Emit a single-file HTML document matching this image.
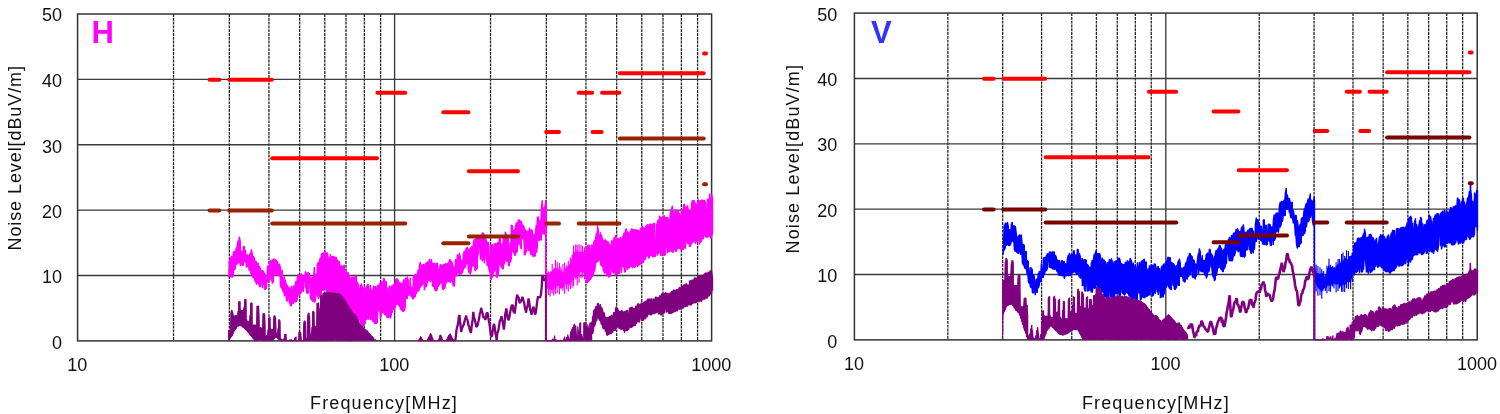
<!DOCTYPE html>
<html><head><meta charset="utf-8"><title>Noise Level</title>
<style>
html,body{margin:0;padding:0;background:#fff;}
body{width:1500px;height:414px;overflow:hidden;font-family:"Liberation Sans", sans-serif;}
svg{display:block;will-change:transform;opacity:0.999;}
.t{font-family:"Liberation Sans", sans-serif;font-size:18px;fill:#111;}
.dash{stroke:#262626;stroke-width:1.3;stroke-dasharray:2.9 0.9;}
.maj{stroke:#3a3a3a;stroke-width:1.35;}
.frame{fill:none;stroke:#333;stroke-width:1.5;}
.lim{stroke-width:4;stroke-linecap:round;}
.tr{fill:none;stroke-linejoin:bevel;}
.hv{font-family:"Liberation Sans", sans-serif;font-size:29px;font-weight:bold;}
</style></head><body>
<svg width="1500" height="414" viewBox="0 0 1500 414">
<rect width="1500" height="414" fill="#fff"/>

<g id="left">
<line x1="173.53" y1="14.00" x2="173.53" y2="340.90" class="dash"/>
<line x1="229.35" y1="14.00" x2="229.35" y2="340.90" class="dash"/>
<line x1="268.95" y1="14.00" x2="268.95" y2="340.90" class="dash"/>
<line x1="299.67" y1="14.00" x2="299.67" y2="340.90" class="dash"/>
<line x1="324.77" y1="14.00" x2="324.77" y2="340.90" class="dash"/>
<line x1="346.00" y1="14.00" x2="346.00" y2="340.90" class="dash"/>
<line x1="364.38" y1="14.00" x2="364.38" y2="340.90" class="dash"/>
<line x1="380.59" y1="14.00" x2="380.59" y2="340.90" class="dash"/>
<line x1="490.53" y1="14.00" x2="490.53" y2="340.90" class="dash"/>
<line x1="546.35" y1="14.00" x2="546.35" y2="340.90" class="dash"/>
<line x1="585.95" y1="14.00" x2="585.95" y2="340.90" class="dash"/>
<line x1="616.67" y1="14.00" x2="616.67" y2="340.90" class="dash"/>
<line x1="641.77" y1="14.00" x2="641.77" y2="340.90" class="dash"/>
<line x1="663.00" y1="14.00" x2="663.00" y2="340.90" class="dash"/>
<line x1="681.38" y1="14.00" x2="681.38" y2="340.90" class="dash"/>
<line x1="697.59" y1="14.00" x2="697.59" y2="340.90" class="dash"/>
<line x1="394.60" y1="14.00" x2="394.60" y2="340.90" class="maj"/>
<line x1="77.60" y1="275.52" x2="711.60" y2="275.52" class="maj"/>
<line x1="77.60" y1="210.14" x2="711.60" y2="210.14" class="maj"/>
<line x1="77.60" y1="144.76" x2="711.60" y2="144.76" class="maj"/>
<line x1="77.60" y1="79.38" x2="711.60" y2="79.38" class="maj"/>
<rect x="77.60" y="14.00" width="634.00" height="326.90" class="frame"/>
<polygon fill="#ff00ff" points="228.3,275.7 229.3,262.0 230.3,258.1 231.3,255.8 232.3,257.7 233.3,252.2 234.3,251.2 235.3,253.5 236.3,247.5 237.3,245.0 238.3,240.2 239.3,236.6 240.3,241.9 241.3,250.8 242.3,253.1 243.3,246.5 244.3,246.4 245.3,249.6 246.3,258.9 247.3,254.5 248.3,256.2 249.3,255.7 250.3,253.0 251.3,249.3 252.3,254.0 253.3,256.4 254.3,257.8 255.3,260.8 256.3,261.8 257.3,263.6 258.3,263.2 259.3,266.0 260.3,268.4 261.3,271.4 262.3,270.1 263.3,271.1 264.3,273.5 265.3,274.3 266.3,289.0 267.3,268.1 268.3,265.0 269.3,268.0 270.3,260.0 271.3,261.9 272.3,259.5 273.3,259.2 274.3,259.1 275.3,259.5 276.3,260.5 277.3,261.2 278.3,266.9 279.3,263.7 280.3,267.0 281.3,271.9 282.3,269.9 283.3,281.0 284.3,276.3 285.3,279.8 286.3,284.8 287.3,285.0 288.3,287.7 289.3,287.5 290.3,290.7 291.3,285.7 292.3,293.3 293.3,285.8 294.3,286.5 295.3,282.3 296.3,281.5 297.3,277.3 298.3,274.6 299.3,275.5 300.3,276.4 301.3,273.6 302.3,275.8 303.3,276.0 304.3,276.0 305.3,271.4 306.3,273.6 307.3,273.1 308.3,272.5 309.3,273.1 310.3,278.6 311.3,280.3 312.3,276.5 313.3,282.5 314.3,267.1 315.3,278.7 316.3,273.6 317.3,263.7 318.3,262.6 319.3,261.2 320.3,257.9 321.3,254.6 322.3,253.0 323.3,255.1 324.3,251.6 325.3,251.7 326.3,254.3 327.3,252.4 328.3,259.3 329.3,262.5 330.3,254.1 331.3,257.3 332.3,256.3 333.3,256.2 334.3,257.1 335.3,258.0 336.3,257.2 337.3,259.6 338.3,263.2 339.3,260.8 340.3,271.0 341.3,265.3 342.3,266.2 343.3,267.6 344.3,264.7 345.3,276.0 346.3,270.7 347.3,273.1 348.3,272.5 349.3,275.1 350.3,281.5 351.3,278.0 352.3,276.8 353.3,277.0 354.3,277.6 355.3,276.3 356.3,276.0 357.3,282.1 358.3,284.7 359.3,294.9 360.3,284.9 361.3,283.5 362.3,287.5 363.3,288.1 364.3,287.5 365.3,292.0 366.3,286.5 367.3,284.7 368.3,284.6 369.3,293.4 370.3,285.1 371.3,290.7 372.3,289.9 373.3,285.7 374.3,287.7 375.3,286.2 376.3,288.3 377.3,285.9 378.3,285.5 379.3,284.3 380.3,283.2 381.3,281.3 382.3,283.2 383.3,278.8 384.3,278.4 385.3,281.0 386.3,282.3 387.3,287.7 388.3,292.4 389.3,285.6 390.3,288.8 391.3,285.8 392.3,286.6 393.3,284.2 394.3,285.8 395.3,281.1 396.3,278.4 397.3,278.7 398.3,280.8 399.3,282.2 400.3,284.0 401.3,282.8 402.3,284.5 403.3,279.8 404.3,280.3 405.3,278.0 406.3,279.3 407.3,276.4 408.3,280.8 409.3,293.8 410.3,277.8 411.3,286.6 412.3,290.5 413.3,277.6 414.3,275.3 415.3,274.1 416.3,275.5 417.3,274.2 418.3,269.8 419.3,267.0 420.3,261.9 421.3,266.4 422.3,264.7 423.3,264.2 424.3,265.7 425.3,264.2 426.3,262.8 427.3,261.8 428.3,262.5 429.3,259.0 430.3,263.8 431.3,259.0 432.3,265.2 433.3,263.3 434.3,263.3 435.3,266.5 436.3,263.2 437.3,262.5 438.3,272.8 439.3,270.6 440.3,264.1 441.3,265.8 442.3,265.0 443.3,264.9 444.3,264.2 445.3,263.2 446.3,265.2 447.3,263.7 448.3,262.9 449.3,260.0 450.3,259.7 451.3,260.9 452.3,263.0 453.3,265.5 454.3,272.1 455.3,259.6 456.3,259.9 457.3,254.6 458.3,257.2 459.3,252.8 460.3,257.2 461.3,259.9 462.3,261.7 463.3,254.6 464.3,251.2 465.3,251.4 466.3,247.9 467.3,246.9 468.3,252.0 469.3,250.1 470.3,248.1 471.3,246.6 472.3,246.9 473.3,242.9 474.3,239.3 475.3,241.2 476.3,237.3 477.3,236.2 478.3,235.4 479.3,237.2 480.3,239.0 481.3,237.6 482.3,232.6 483.3,233.1 484.3,235.7 485.3,236.4 486.3,241.1 487.3,242.7 488.3,242.0 489.3,267.9 490.3,244.3 491.3,246.8 492.3,243.9 493.3,251.1 494.3,243.3 495.3,244.0 496.3,243.8 497.3,243.7 498.3,242.1 499.3,238.2 500.3,239.2 501.3,244.0 502.3,244.4 503.3,237.5 504.3,238.1 505.3,231.8 506.3,234.4 507.3,238.3 508.3,237.0 509.3,251.3 510.3,242.0 511.3,225.1 512.3,225.6 513.3,231.1 514.3,229.6 515.3,227.5 516.3,222.6 517.3,225.8 518.3,219.7 519.3,219.6 520.3,221.4 521.3,221.2 522.3,225.6 523.3,225.0 524.3,228.3 525.3,229.5 526.3,232.0 527.3,231.0 528.3,232.2 529.3,227.8 530.3,231.4 531.3,229.4 532.3,230.9 533.3,234.2 534.3,235.2 535.3,233.1 536.3,225.2 537.3,217.8 538.3,216.6 539.3,221.6 540.3,220.1 541.3,208.8 542.3,200.3 543.3,209.7 544.3,206.8 545.3,203.5 546.3,203.5 546.3,231.7 545.3,234.0 544.3,234.1 543.3,233.9 542.3,233.5 541.3,240.3 540.3,239.1 539.3,241.1 538.3,238.8 537.3,247.3 536.3,252.9 535.3,255.9 534.3,256.2 533.3,256.7 532.3,255.2 531.3,255.0 530.3,253.2 529.3,249.2 528.3,250.8 527.3,243.3 526.3,252.5 525.3,254.7 524.3,254.7 523.3,239.0 522.3,238.0 521.3,249.0 520.3,245.7 519.3,241.8 518.3,245.1 517.3,250.9 516.3,253.3 515.3,255.5 514.3,254.7 513.3,252.5 512.3,250.8 511.3,258.3 510.3,262.6 509.3,266.1 508.3,264.8 507.3,260.5 506.3,261.6 505.3,257.2 504.3,264.3 503.3,268.8 502.3,268.9 501.3,267.6 500.3,263.5 499.3,258.2 498.3,276.0 497.3,277.4 496.3,276.4 495.3,269.1 494.3,271.5 493.3,273.2 492.3,277.5 491.3,280.0 490.3,274.8 489.3,271.4 488.3,264.4 487.3,265.9 486.3,258.0 485.3,250.9 484.3,263.4 483.3,258.3 482.3,261.2 481.3,258.4 480.3,259.2 479.3,241.0 478.3,255.2 477.3,268.0 476.3,269.6 475.3,271.3 474.3,265.8 473.3,265.8 472.3,266.0 471.3,270.2 470.3,274.4 469.3,273.0 468.3,270.6 467.3,262.7 466.3,264.4 465.3,266.7 464.3,268.3 463.3,269.1 462.3,273.0 461.3,274.6 460.3,273.1 459.3,274.9 458.3,271.5 457.3,272.7 456.3,276.3 455.3,271.6 454.3,286.6 453.3,286.2 452.3,280.6 451.3,279.0 450.3,282.7 449.3,281.5 448.3,281.3 447.3,280.4 446.3,283.3 445.3,286.3 444.3,288.9 443.3,290.0 442.3,287.5 441.3,281.7 440.3,283.7 439.3,284.5 438.3,286.6 437.3,289.1 436.3,291.1 435.3,291.0 434.3,287.4 433.3,286.5 432.3,285.6 431.3,276.8 430.3,282.0 429.3,280.2 428.3,280.1 427.3,282.1 426.3,287.1 425.3,286.2 424.3,290.3 423.3,281.5 422.3,285.0 421.3,285.5 420.3,287.3 419.3,289.6 418.3,291.5 417.3,288.8 416.3,294.0 415.3,296.3 414.3,297.6 413.3,299.1 412.3,298.6 411.3,296.8 410.3,292.4 409.3,295.1 408.3,295.1 407.3,298.9 406.3,297.4 405.3,306.7 404.3,311.0 403.3,311.6 402.3,311.2 401.3,309.9 400.3,308.8 399.3,306.6 398.3,303.6 397.3,304.1 396.3,304.8 395.3,306.6 394.3,310.4 393.3,305.5 392.3,312.6 391.3,315.0 390.3,318.4 389.3,315.8 388.3,318.0 387.3,317.8 386.3,315.4 385.3,314.8 384.3,314.2 383.3,312.9 382.3,311.8 381.3,315.0 380.3,319.0 379.3,311.1 378.3,310.0 377.3,322.4 376.3,323.8 375.3,323.3 374.3,323.2 373.3,321.5 372.3,320.3 371.3,318.0 370.3,320.1 369.3,315.1 368.3,319.7 367.3,317.8 366.3,319.8 365.3,323.2 364.3,323.1 363.3,326.0 362.3,325.8 361.3,322.8 360.3,323.9 359.3,318.7 358.3,321.6 357.3,318.0 356.3,319.8 355.3,318.1 354.3,316.1 353.3,317.2 352.3,314.7 351.3,313.5 350.3,313.3 349.3,312.8 348.3,311.7 347.3,309.8 346.3,310.2 345.3,307.5 344.3,306.1 343.3,305.4 342.3,303.5 341.3,301.9 340.3,303.0 339.3,302.1 338.3,302.3 337.3,300.2 336.3,300.8 335.3,297.7 334.3,295.8 333.3,296.1 332.3,291.7 331.3,291.1 330.3,295.2 329.3,293.5 328.3,294.5 327.3,293.3 326.3,291.5 325.3,285.2 324.3,288.5 323.3,290.8 322.3,289.9 321.3,293.4 320.3,294.8 319.3,296.2 318.3,298.9 317.3,296.6 316.3,293.1 315.3,300.8 314.3,302.5 313.3,301.0 312.3,301.1 311.3,299.9 310.3,297.1 309.3,275.3 308.3,293.4 307.3,293.8 306.3,291.4 305.3,287.4 304.3,276.0 303.3,291.9 302.3,288.8 301.3,292.2 300.3,294.1 299.3,296.1 298.3,294.2 297.3,299.8 296.3,301.8 295.3,302.4 294.3,300.2 293.3,304.0 292.3,302.5 291.3,305.9 290.3,305.4 289.3,302.9 288.3,292.4 287.3,301.2 286.3,300.2 285.3,293.5 284.3,296.2 283.3,292.1 282.3,288.9 281.3,288.3 280.3,284.1 279.3,273.3 278.3,276.2 277.3,275.2 276.3,273.1 275.3,276.0 274.3,270.3 273.3,281.8 272.3,283.4 271.3,280.6 270.3,275.0 269.3,279.4 268.3,282.1 267.3,278.3 266.3,289.0 265.3,289.6 264.3,289.0 263.3,280.1 262.3,288.0 261.3,277.6 260.3,287.2 259.3,286.4 258.3,281.2 257.3,282.7 256.3,284.6 255.3,281.6 254.3,278.6 253.3,277.8 252.3,276.3 251.3,274.5 250.3,271.0 249.3,270.6 248.3,265.1 247.3,266.5 246.3,267.2 245.3,261.3 244.3,262.1 243.3,265.4 242.3,265.3 241.3,263.1 240.3,265.9 239.3,261.9 238.3,263.1 237.3,263.3 236.3,264.8 235.3,268.7 234.3,269.9 233.3,275.9 232.3,277.5 231.3,276.6 230.3,276.9 229.3,273.2 228.3,276.7"/>
<polyline class="tr" stroke="#ff00ff" stroke-width="1.4" points="228.3,275.7 228.3,276.7 229.3,273.2 229.3,262.0 230.3,258.1 230.3,276.9 231.3,276.6 231.3,255.8 232.3,257.7 232.3,277.5 233.3,275.9 233.3,252.2 234.3,251.2 234.3,269.9 235.3,268.7 235.3,253.5 236.3,247.5 236.3,264.8 237.3,263.3 237.3,245.0 238.3,240.2 238.3,263.1 239.3,261.9 239.3,236.6 240.3,241.9 240.3,265.9 241.3,263.1 241.3,250.8 242.3,253.1 242.3,265.3 243.3,265.4 243.3,246.5 244.3,246.4 244.3,262.1 245.3,261.3 245.3,249.6 246.3,258.9 246.3,267.2 247.3,266.5 247.3,254.5 248.3,256.2 248.3,265.1 249.3,270.6 249.3,255.7 250.3,253.0 250.3,271.0 251.3,274.5 251.3,249.3 252.3,254.0 252.3,276.3 253.3,277.8 253.3,256.4 254.3,257.8 254.3,278.6 255.3,281.6 255.3,260.8 256.3,261.8 256.3,284.6 257.3,282.7 257.3,263.6 258.3,263.2 258.3,281.2 259.3,286.4 259.3,266.0 260.3,268.4 260.3,287.2 261.3,277.6 261.3,271.4 262.3,270.1 262.3,288.0 263.3,280.1 263.3,271.1 264.3,273.5 264.3,289.0 265.3,289.6 265.3,274.3 266.3,289.0 266.3,289.0 267.3,278.3 267.3,268.1 268.3,265.0 268.3,282.1 269.3,279.4 269.3,268.0 270.3,260.0 270.3,275.0 271.3,280.6 271.3,261.9 272.3,259.5 272.3,283.4 273.3,281.8 273.3,259.2 274.3,259.1 274.3,270.3 275.3,276.0 275.3,259.5 276.3,260.5 276.3,273.1 277.3,275.2 277.3,261.2 278.3,266.9 278.3,276.2 279.3,273.3 279.3,263.7 280.3,267.0 280.3,284.1 281.3,288.3 281.3,271.9 282.3,269.9 282.3,288.9 283.3,292.1 283.3,281.0 284.3,276.3 284.3,296.2 285.3,293.5 285.3,279.8 286.3,284.8 286.3,300.2 287.3,301.2 287.3,285.0 288.3,287.7 288.3,292.4 289.3,302.9 289.3,287.5 290.3,290.7 290.3,305.4 291.3,305.9 291.3,285.7 292.3,293.3 292.3,302.5 293.3,304.0 293.3,285.8 294.3,286.5 294.3,300.2 295.3,302.4 295.3,282.3 296.3,281.5 296.3,301.8 297.3,299.8 297.3,277.3 298.3,274.6 298.3,294.2 299.3,296.1 299.3,275.5 300.3,276.4 300.3,294.1 301.3,292.2 301.3,273.6 302.3,275.8 302.3,288.8 303.3,291.9 303.3,276.0 304.3,276.0 304.3,276.0 305.3,287.4 305.3,271.4 306.3,273.6 306.3,291.4 307.3,293.8 307.3,273.1 308.3,272.5 308.3,293.4 309.3,275.3 309.3,273.1 310.3,278.6 310.3,297.1 311.3,299.9 311.3,280.3 312.3,276.5 312.3,301.1 313.3,301.0 313.3,282.5 314.3,267.1 314.3,302.5 315.3,300.8 315.3,278.7 316.3,273.6 316.3,293.1 317.3,296.6 317.3,263.7 318.3,262.6 318.3,298.9 319.3,296.2 319.3,261.2 320.3,257.9 320.3,294.8 321.3,293.4 321.3,254.6 322.3,253.0 322.3,289.9 323.3,290.8 323.3,255.1 324.3,251.6 324.3,288.5 325.3,285.2 325.3,251.7 326.3,254.3 326.3,291.5 327.3,293.3 327.3,252.4 328.3,259.3 328.3,294.5 329.3,293.5 329.3,262.5 330.3,254.1 330.3,295.2 331.3,291.1 331.3,257.3 332.3,256.3 332.3,291.7 333.3,296.1 333.3,256.2 334.3,257.1 334.3,295.8 335.3,297.7 335.3,258.0 336.3,257.2 336.3,300.8 337.3,300.2 337.3,259.6 338.3,263.2 338.3,302.3 339.3,302.1 339.3,260.8 340.3,271.0 340.3,303.0 341.3,301.9 341.3,265.3 342.3,266.2 342.3,303.5 343.3,305.4 343.3,267.6 344.3,264.7 344.3,306.1 345.3,307.5 345.3,276.0 346.3,270.7 346.3,310.2 347.3,309.8 347.3,273.1 348.3,272.5 348.3,311.7 349.3,312.8 349.3,275.1 350.3,281.5 350.3,313.3 351.3,313.5 351.3,278.0 352.3,276.8 352.3,314.7 353.3,317.2 353.3,277.0 354.3,277.6 354.3,316.1 355.3,318.1 355.3,276.3 356.3,276.0 356.3,319.8 357.3,318.0 357.3,282.1 358.3,284.7 358.3,321.6 359.3,318.7 359.3,294.9 360.3,284.9 360.3,323.9 361.3,322.8 361.3,283.5 362.3,287.5 362.3,325.8 363.3,326.0 363.3,288.1 364.3,287.5 364.3,323.1 365.3,323.2 365.3,292.0 366.3,286.5 366.3,319.8 367.3,317.8 367.3,284.7 368.3,284.6 368.3,319.7 369.3,315.1 369.3,293.4 370.3,285.1 370.3,320.1 371.3,318.0 371.3,290.7 372.3,289.9 372.3,320.3 373.3,321.5 373.3,285.7 374.3,287.7 374.3,323.2 375.3,323.3 375.3,286.2 376.3,288.3 376.3,323.8 377.3,322.4 377.3,285.9 378.3,285.5 378.3,310.0 379.3,311.1 379.3,284.3 380.3,283.2 380.3,319.0 381.3,315.0 381.3,281.3 382.3,283.2 382.3,311.8 383.3,312.9 383.3,278.8 384.3,278.4 384.3,314.2 385.3,314.8 385.3,281.0 386.3,282.3 386.3,315.4 387.3,317.8 387.3,287.7 388.3,292.4 388.3,318.0 389.3,315.8 389.3,285.6 390.3,288.8 390.3,318.4 391.3,315.0 391.3,285.8 392.3,286.6 392.3,312.6 393.3,305.5 393.3,284.2 394.3,285.8 394.3,310.4 395.3,306.6 395.3,281.1 396.3,278.4 396.3,304.8 397.3,304.1 397.3,278.7 398.3,280.8 398.3,303.6 399.3,306.6 399.3,282.2 400.3,284.0 400.3,308.8 401.3,309.9 401.3,282.8 402.3,284.5 402.3,311.2 403.3,311.6 403.3,279.8 404.3,280.3 404.3,311.0 405.3,306.7 405.3,278.0 406.3,279.3 406.3,297.4 407.3,298.9 407.3,276.4 408.3,280.8 408.3,295.1 409.3,295.1 409.3,293.8 410.3,277.8 410.3,292.4 411.3,296.8 411.3,286.6 412.3,290.5 412.3,298.6 413.3,299.1 413.3,277.6 414.3,275.3 414.3,297.6 415.3,296.3 415.3,274.1 416.3,275.5 416.3,294.0 417.3,288.8 417.3,274.2 418.3,269.8 418.3,291.5 419.3,289.6 419.3,267.0 420.3,261.9 420.3,287.3 421.3,285.5 421.3,266.4 422.3,264.7 422.3,285.0 423.3,281.5 423.3,264.2 424.3,265.7 424.3,290.3 425.3,286.2 425.3,264.2 426.3,262.8 426.3,287.1 427.3,282.1 427.3,261.8 428.3,262.5 428.3,280.1 429.3,280.2 429.3,259.0 430.3,263.8 430.3,282.0 431.3,276.8 431.3,259.0 432.3,265.2 432.3,285.6 433.3,286.5 433.3,263.3 434.3,263.3 434.3,287.4 435.3,291.0 435.3,266.5 436.3,263.2 436.3,291.1 437.3,289.1 437.3,262.5 438.3,272.8 438.3,286.6 439.3,284.5 439.3,270.6 440.3,264.1 440.3,283.7 441.3,281.7 441.3,265.8 442.3,265.0 442.3,287.5 443.3,290.0 443.3,264.9 444.3,264.2 444.3,288.9 445.3,286.3 445.3,263.2 446.3,265.2 446.3,283.3 447.3,280.4 447.3,263.7 448.3,262.9 448.3,281.3 449.3,281.5 449.3,260.0 450.3,259.7 450.3,282.7 451.3,279.0 451.3,260.9 452.3,263.0 452.3,280.6 453.3,286.2 453.3,265.5 454.3,272.1 454.3,286.6 455.3,271.6 455.3,259.6 456.3,259.9 456.3,276.3 457.3,272.7 457.3,254.6 458.3,257.2 458.3,271.5 459.3,274.9 459.3,252.8 460.3,257.2 460.3,273.1 461.3,274.6 461.3,259.9 462.3,261.7 462.3,273.0 463.3,269.1 463.3,254.6 464.3,251.2 464.3,268.3 465.3,266.7 465.3,251.4 466.3,247.9 466.3,264.4 467.3,262.7 467.3,246.9 468.3,252.0 468.3,270.6 469.3,273.0 469.3,250.1 470.3,248.1 470.3,274.4 471.3,270.2 471.3,246.6 472.3,246.9 472.3,266.0 473.3,265.8 473.3,242.9 474.3,239.3 474.3,265.8 475.3,271.3 475.3,241.2 476.3,237.3 476.3,269.6 477.3,268.0 477.3,236.2 478.3,235.4 478.3,255.2 479.3,241.0 479.3,237.2 480.3,239.0 480.3,259.2 481.3,258.4 481.3,237.6 482.3,232.6 482.3,261.2 483.3,258.3 483.3,233.1 484.3,235.7 484.3,263.4 485.3,250.9 485.3,236.4 486.3,241.1 486.3,258.0 487.3,265.9 487.3,242.7 488.3,242.0 488.3,264.4 489.3,271.4 489.3,267.9 490.3,244.3 490.3,274.8 491.3,280.0 491.3,246.8 492.3,243.9 492.3,277.5 493.3,273.2 493.3,251.1 494.3,243.3 494.3,271.5 495.3,269.1 495.3,244.0 496.3,243.8 496.3,276.4 497.3,277.4 497.3,243.7 498.3,242.1 498.3,276.0 499.3,258.2 499.3,238.2 500.3,239.2 500.3,263.5 501.3,267.6 501.3,244.0 502.3,244.4 502.3,268.9 503.3,268.8 503.3,237.5 504.3,238.1 504.3,264.3 505.3,257.2 505.3,231.8 506.3,234.4 506.3,261.6 507.3,260.5 507.3,238.3 508.3,237.0 508.3,264.8 509.3,266.1 509.3,251.3 510.3,242.0 510.3,262.6 511.3,258.3 511.3,225.1 512.3,225.6 512.3,250.8 513.3,252.5 513.3,231.1 514.3,229.6 514.3,254.7 515.3,255.5 515.3,227.5 516.3,222.6 516.3,253.3 517.3,250.9 517.3,225.8 518.3,219.7 518.3,245.1 519.3,241.8 519.3,219.6 520.3,221.4 520.3,245.7 521.3,249.0 521.3,221.2 522.3,225.6 522.3,238.0 523.3,239.0 523.3,225.0 524.3,228.3 524.3,254.7 525.3,254.7 525.3,229.5 526.3,232.0 526.3,252.5 527.3,243.3 527.3,231.0 528.3,232.2 528.3,250.8 529.3,249.2 529.3,227.8 530.3,231.4 530.3,253.2 531.3,255.0 531.3,229.4 532.3,230.9 532.3,255.2 533.3,256.7 533.3,234.2 534.3,235.2 534.3,256.2 535.3,255.9 535.3,233.1 536.3,225.2 536.3,252.9 537.3,247.3 537.3,217.8 538.3,216.6 538.3,238.8 539.3,241.1 539.3,221.6 540.3,220.1 540.3,239.1 541.3,240.3 541.3,208.8 542.3,200.3 542.3,233.5 543.3,233.9 543.3,209.7 544.3,206.8 544.3,234.1 545.3,234.0 545.3,203.5 546.3,203.5 546.3,231.7"/>
<polygon fill="#ff00ff" points="546.7,273.1 547.5,273.0 548.3,274.1 549.1,274.5 549.9,272.5 550.7,271.1 551.5,271.8 552.3,269.4 553.1,270.3 553.9,267.4 554.7,268.7 555.5,266.0 556.3,268.2 557.1,267.2 557.9,268.1 558.7,269.6 559.5,269.4 560.3,271.7 561.1,269.5 561.9,269.9 562.7,272.9 563.5,271.5 564.3,269.2 565.1,268.3 565.9,268.5 566.7,267.8 567.5,267.8 568.3,266.7 569.1,264.3 569.9,264.1 570.7,264.6 571.5,259.8 572.3,255.5 573.1,252.6 573.9,251.7 574.7,252.1 575.5,251.5 576.3,250.6 577.1,250.1 577.9,252.3 578.7,251.9 579.5,251.4 580.3,252.1 581.1,252.3 581.9,251.0 582.7,252.8 583.5,252.1 584.3,250.7 585.1,251.0 585.9,253.2 586.7,250.6 586.7,275.4 585.9,274.5 585.1,274.4 584.3,272.9 583.5,273.4 582.7,270.9 581.9,270.9 581.1,271.6 580.3,271.8 579.5,273.7 578.7,274.8 577.9,277.9 577.1,278.1 576.3,278.1 575.5,277.0 574.7,277.1 573.9,278.5 573.1,280.5 572.3,280.0 571.5,283.1 570.7,283.6 569.9,284.7 569.1,284.4 568.3,284.1 567.5,284.4 566.7,285.4 565.9,283.8 565.1,285.0 564.3,286.9 563.5,287.0 562.7,288.8 561.9,288.1 561.1,289.5 560.3,288.5 559.5,286.5 558.7,286.1 557.9,286.2 557.1,285.6 556.3,288.2 555.5,287.1 554.7,287.5 553.9,288.7 553.1,289.4 552.3,289.0 551.5,289.9 550.7,290.2 549.9,288.6 549.1,289.6 548.3,289.9 547.5,288.5 546.7,289.0"/>
<path class="tr" stroke="#ff00ff" stroke-width="1.15" d="M546.7 269.3V293.7M548.6 271.4V295.0M550.2 273.4V296.5M552.2 264.1V292.9M553.7 273.0V295.5M555.4 260.1V294.1M557.2 262.2V292.9M559.4 263.1V294.4M560.9 266.8V287.7M562.9 264.0V290.9M564.6 262.5V293.8M566.7 265.3V289.6M568.3 260.7V291.5M570.4 257.5V288.9M572.1 254.7V287.7M573.6 245.3V285.9M575.7 244.4V279.4M577.2 244.7V285.6M579.1 244.2V282.7M581.0 244.8V277.9M582.6 246.0V277.5M584.6 247.3V279.6M586.6 249.6V282.6"/>
<polygon fill="#ff00ff" points="586.5,248.0 587.5,245.4 588.5,245.4 589.5,244.7 590.5,255.3 591.5,244.7 592.5,245.7 593.5,243.6 594.5,240.3 595.5,238.7 596.5,233.0 597.5,225.5 598.5,231.8 599.5,239.1 600.5,232.3 601.5,234.8 602.5,240.6 603.5,239.6 604.5,240.9 605.5,239.6 606.5,242.0 607.5,241.5 608.5,242.3 609.5,244.4 610.5,245.5 611.5,240.6 612.5,241.5 613.5,240.0 614.5,237.3 615.5,234.9 616.5,240.0 617.5,238.4 618.5,238.9 619.5,239.8 620.5,237.0 621.5,240.5 622.5,236.5 623.5,234.3 624.5,232.5 625.5,230.2 626.5,228.6 627.5,231.7 628.5,233.1 629.5,236.9 630.5,230.6 631.5,228.4 632.5,229.6 633.5,229.4 634.5,229.7 635.5,230.0 636.5,230.0 637.5,230.2 638.5,230.4 639.5,234.6 640.5,228.1 641.5,228.1 642.5,225.7 643.5,228.1 644.5,227.7 645.5,228.0 646.5,225.1 647.5,224.6 648.5,225.6 649.5,225.2 650.5,223.6 651.5,224.8 652.5,224.1 653.5,223.7 654.5,223.1 655.5,252.1 656.5,224.0 657.5,221.4 658.5,219.7 659.5,215.8 660.5,217.8 661.5,217.1 662.5,219.1 663.5,218.6 664.5,215.2 665.5,217.7 666.5,217.7 667.5,217.0 668.5,220.5 669.5,223.4 670.5,211.2 671.5,208.9 672.5,205.8 673.5,210.8 674.5,215.0 675.5,209.8 676.5,213.5 677.5,210.4 678.5,212.0 679.5,213.5 680.5,217.5 681.5,209.4 682.5,210.0 683.5,205.2 684.5,203.8 685.5,207.5 686.5,207.0 687.5,205.3 688.5,211.3 689.5,211.5 690.5,210.5 691.5,204.0 692.5,200.1 693.5,200.3 694.5,201.2 695.5,202.7 696.5,205.3 697.5,206.2 698.5,199.4 699.5,202.6 700.5,200.3 701.5,200.1 702.5,200.3 703.5,200.8 704.5,200.2 705.5,201.4 706.5,217.9 707.5,198.8 708.5,200.2 709.5,193.7 710.5,201.2 711.5,193.9 712.5,199.1 712.5,234.5 711.5,238.1 710.5,238.0 709.5,235.3 708.5,236.8 707.5,236.9 706.5,237.4 705.5,237.1 704.5,233.6 703.5,239.1 702.5,237.8 701.5,241.6 700.5,242.0 699.5,244.7 698.5,232.2 697.5,241.1 696.5,241.8 695.5,243.8 694.5,239.8 693.5,240.3 692.5,243.4 691.5,241.8 690.5,246.3 689.5,246.9 688.5,240.7 687.5,244.1 686.5,237.3 685.5,248.6 684.5,247.4 683.5,249.3 682.5,249.3 681.5,249.4 680.5,249.6 679.5,248.9 678.5,247.5 677.5,247.8 676.5,251.4 675.5,251.7 674.5,246.1 673.5,251.5 672.5,252.6 671.5,251.8 670.5,246.3 669.5,252.0 668.5,251.0 667.5,253.3 666.5,237.8 665.5,253.8 664.5,255.8 663.5,251.7 662.5,255.1 661.5,255.5 660.5,255.2 659.5,250.1 658.5,253.8 657.5,255.5 656.5,251.4 655.5,256.2 654.5,256.5 653.5,256.4 652.5,257.3 651.5,254.2 650.5,256.0 649.5,256.3 648.5,258.5 647.5,255.3 646.5,256.5 645.5,259.1 644.5,260.1 643.5,262.4 642.5,262.4 641.5,261.4 640.5,264.6 639.5,264.4 638.5,265.8 637.5,266.8 636.5,262.0 635.5,265.8 634.5,267.7 633.5,265.8 632.5,268.1 631.5,265.6 630.5,266.7 629.5,268.1 628.5,267.4 627.5,270.1 626.5,264.4 625.5,271.5 624.5,272.3 623.5,267.3 622.5,265.7 621.5,273.0 620.5,264.5 619.5,273.6 618.5,273.8 617.5,273.8 616.5,274.2 615.5,275.4 614.5,270.4 613.5,273.6 612.5,271.1 611.5,262.4 610.5,276.2 609.5,276.9 608.5,277.0 607.5,275.4 606.5,274.9 605.5,271.8 604.5,273.4 603.5,271.3 602.5,263.3 601.5,266.3 600.5,263.5 599.5,258.3 598.5,261.2 597.5,261.6 596.5,262.5 595.5,264.7 594.5,271.4 593.5,273.9 592.5,276.5 591.5,276.9 590.5,279.6 589.5,280.1 588.5,281.5 587.5,282.5 586.5,282.8"/>
<polyline class="tr" stroke="#ff00ff" stroke-width="1.4" points="586.5,248.0 586.5,282.8 587.5,282.5 587.5,245.4 588.5,245.4 588.5,281.5 589.5,280.1 589.5,244.7 590.5,255.3 590.5,279.6 591.5,276.9 591.5,244.7 592.5,245.7 592.5,276.5 593.5,273.9 593.5,243.6 594.5,240.3 594.5,271.4 595.5,264.7 595.5,238.7 596.5,233.0 596.5,262.5 597.5,261.6 597.5,225.5 598.5,231.8 598.5,261.2 599.5,258.3 599.5,239.1 600.5,232.3 600.5,263.5 601.5,266.3 601.5,234.8 602.5,240.6 602.5,263.3 603.5,271.3 603.5,239.6 604.5,240.9 604.5,273.4 605.5,271.8 605.5,239.6 606.5,242.0 606.5,274.9 607.5,275.4 607.5,241.5 608.5,242.3 608.5,277.0 609.5,276.9 609.5,244.4 610.5,245.5 610.5,276.2 611.5,262.4 611.5,240.6 612.5,241.5 612.5,271.1 613.5,273.6 613.5,240.0 614.5,237.3 614.5,270.4 615.5,275.4 615.5,234.9 616.5,240.0 616.5,274.2 617.5,273.8 617.5,238.4 618.5,238.9 618.5,273.8 619.5,273.6 619.5,239.8 620.5,237.0 620.5,264.5 621.5,273.0 621.5,240.5 622.5,236.5 622.5,265.7 623.5,267.3 623.5,234.3 624.5,232.5 624.5,272.3 625.5,271.5 625.5,230.2 626.5,228.6 626.5,264.4 627.5,270.1 627.5,231.7 628.5,233.1 628.5,267.4 629.5,268.1 629.5,236.9 630.5,230.6 630.5,266.7 631.5,265.6 631.5,228.4 632.5,229.6 632.5,268.1 633.5,265.8 633.5,229.4 634.5,229.7 634.5,267.7 635.5,265.8 635.5,230.0 636.5,230.0 636.5,262.0 637.5,266.8 637.5,230.2 638.5,230.4 638.5,265.8 639.5,264.4 639.5,234.6 640.5,228.1 640.5,264.6 641.5,261.4 641.5,228.1 642.5,225.7 642.5,262.4 643.5,262.4 643.5,228.1 644.5,227.7 644.5,260.1 645.5,259.1 645.5,228.0 646.5,225.1 646.5,256.5 647.5,255.3 647.5,224.6 648.5,225.6 648.5,258.5 649.5,256.3 649.5,225.2 650.5,223.6 650.5,256.0 651.5,254.2 651.5,224.8 652.5,224.1 652.5,257.3 653.5,256.4 653.5,223.7 654.5,223.1 654.5,256.5 655.5,256.2 655.5,252.1 656.5,224.0 656.5,251.4 657.5,255.5 657.5,221.4 658.5,219.7 658.5,253.8 659.5,250.1 659.5,215.8 660.5,217.8 660.5,255.2 661.5,255.5 661.5,217.1 662.5,219.1 662.5,255.1 663.5,251.7 663.5,218.6 664.5,215.2 664.5,255.8 665.5,253.8 665.5,217.7 666.5,217.7 666.5,237.8 667.5,253.3 667.5,217.0 668.5,220.5 668.5,251.0 669.5,252.0 669.5,223.4 670.5,211.2 670.5,246.3 671.5,251.8 671.5,208.9 672.5,205.8 672.5,252.6 673.5,251.5 673.5,210.8 674.5,215.0 674.5,246.1 675.5,251.7 675.5,209.8 676.5,213.5 676.5,251.4 677.5,247.8 677.5,210.4 678.5,212.0 678.5,247.5 679.5,248.9 679.5,213.5 680.5,217.5 680.5,249.6 681.5,249.4 681.5,209.4 682.5,210.0 682.5,249.3 683.5,249.3 683.5,205.2 684.5,203.8 684.5,247.4 685.5,248.6 685.5,207.5 686.5,207.0 686.5,237.3 687.5,244.1 687.5,205.3 688.5,211.3 688.5,240.7 689.5,246.9 689.5,211.5 690.5,210.5 690.5,246.3 691.5,241.8 691.5,204.0 692.5,200.1 692.5,243.4 693.5,240.3 693.5,200.3 694.5,201.2 694.5,239.8 695.5,243.8 695.5,202.7 696.5,205.3 696.5,241.8 697.5,241.1 697.5,206.2 698.5,199.4 698.5,232.2 699.5,244.7 699.5,202.6 700.5,200.3 700.5,242.0 701.5,241.6 701.5,200.1 702.5,200.3 702.5,237.8 703.5,239.1 703.5,200.8 704.5,200.2 704.5,233.6 705.5,237.1 705.5,201.4 706.5,217.9 706.5,237.4 707.5,236.9 707.5,198.8 708.5,200.2 708.5,236.8 709.5,235.3 709.5,193.7 710.5,201.2 710.5,238.0 711.5,238.1 711.5,193.9 712.5,199.1 712.5,234.5"/>
<line x1="545.8" y1="200" x2="545.8" y2="340.9" stroke="#ff00ff" stroke-width="1.6"/>
<polygon fill="#800080" points="228.1,340.9 228.6,330.4 229.1,330.1 229.6,331.4 230.1,330.3 230.6,330.4 231.1,311.4 231.6,310.2 232.1,310.2 232.6,312.0 233.1,313.9 233.6,316.3 234.1,315.7 234.6,316.7 235.1,315.6 235.6,315.6 236.1,315.4 236.6,315.7 237.1,315.4 237.6,316.1 238.1,311.2 238.6,302.4 239.1,301.4 239.6,301.5 240.1,301.5 240.6,310.6 241.1,310.1 241.6,310.3 242.1,310.2 242.6,310.5 243.1,310.5 243.6,310.4 244.1,306.8 244.6,299.4 245.1,299.4 245.6,299.6 246.1,299.5 246.6,319.3 247.1,321.1 247.6,321.2 248.1,321.3 248.6,321.1 249.1,321.0 249.6,320.8 250.1,315.0 250.6,303.1 251.1,302.9 251.6,302.8 252.1,303.0 252.6,325.0 253.1,325.4 253.6,324.7 254.1,325.0 254.6,324.9 255.1,325.3 255.6,324.8 256.1,325.3 256.6,324.9 257.1,305.9 257.6,306.3 258.1,305.7 258.6,306.0 259.1,316.7 259.6,327.9 260.1,327.4 260.6,327.3 261.1,327.8 261.6,329.0 262.1,327.6 262.6,328.4 263.1,313.6 263.6,313.6 264.1,313.5 264.6,313.7 265.1,324.5 265.6,336.3 266.1,335.6 266.6,335.5 267.1,335.8 267.6,335.4 268.1,329.5 268.6,318.2 269.1,317.4 269.6,318.5 270.1,317.4 270.6,328.1 271.1,329.4 271.6,331.9 272.1,329.0 272.6,328.9 273.1,329.1 273.6,320.1 274.1,315.7 274.6,315.6 275.1,315.7 275.6,317.8 276.1,333.0 276.6,333.2 277.1,332.9 277.6,333.5 278.1,328.4 278.6,320.2 279.1,319.4 279.6,319.9 280.1,321.6 280.6,337.9 281.1,339.5 281.6,339.7 282.1,339.4 282.6,339.8 283.1,340.9 283.6,339.4 284.1,338.3 284.6,334.6 285.1,334.2 285.6,334.4 286.1,334.1 286.6,340.8 287.1,340.9 287.6,340.9 288.1,340.9 288.6,340.9 289.1,340.9 289.6,339.8 290.1,340.2 290.6,340.2 291.1,339.3 291.6,339.7 292.1,340.9 292.6,340.9 293.1,340.9 293.6,340.9 294.1,339.8 294.6,337.8 295.1,338.3 295.6,337.2 296.1,336.7 296.6,340.9 297.1,340.9 297.6,340.9 298.1,340.9 298.6,340.9 299.1,331.6 299.6,331.5 300.1,332.4 300.6,332.1 301.1,336.2 301.6,340.9 302.1,340.9 302.6,340.9 303.1,340.9 303.6,325.8 304.1,321.5 304.6,320.8 305.1,320.8 305.6,322.1 306.1,338.2 306.6,338.6 307.1,338.2 307.6,319.1 308.1,313.6 308.6,312.8 309.1,313.3 309.6,316.0 310.1,335.5 310.6,334.1 311.1,334.1 311.6,334.2 312.1,326.9 312.6,311.5 313.1,311.5 313.6,311.4 314.1,311.7 314.6,325.5 315.1,326.5 315.6,326.2 316.1,326.0 316.6,327.0 317.1,303.2 317.6,303.1 318.1,303.0 318.6,302.7 319.1,309.1 319.6,316.0 320.1,308.7 320.6,295.4 321.1,295.7 321.6,294.8 322.1,295.2 322.6,302.8 323.1,293.2 323.6,292.8 324.1,292.9 324.6,292.8 325.1,293.9 325.6,293.3 326.1,292.4 326.6,292.1 327.1,292.3 327.6,292.3 328.1,292.2 328.6,292.6 329.1,292.4 329.6,292.9 330.1,292.3 330.6,293.1 331.1,292.5 331.6,293.0 332.1,292.7 332.6,293.4 333.1,293.9 333.6,292.7 334.1,293.0 334.6,293.7 335.1,292.9 335.6,293.2 336.1,293.5 336.6,293.9 337.1,293.3 337.6,293.7 338.1,293.5 338.6,293.3 339.1,293.3 339.6,294.1 340.1,293.9 340.6,294.6 341.1,294.8 341.6,295.5 342.1,295.9 342.6,296.5 343.1,297.5 343.6,297.7 344.1,298.5 344.6,299.3 345.1,301.0 345.6,301.1 346.1,302.4 346.6,303.1 347.1,303.8 347.6,304.4 348.1,305.8 348.6,305.9 349.1,306.7 349.6,307.6 350.1,308.8 350.6,309.1 351.1,310.2 351.6,310.8 352.1,311.5 352.6,312.7 353.1,313.1 353.6,313.4 354.1,313.8 354.6,314.1 355.1,314.5 355.6,315.5 356.1,317.0 356.6,316.7 357.1,317.7 357.6,319.3 358.1,319.8 358.6,321.1 359.1,322.9 359.6,323.4 360.1,324.2 360.6,324.2 361.1,324.8 361.6,325.6 362.1,326.7 362.6,326.4 363.1,327.5 363.6,328.2 364.1,329.6 364.6,328.9 365.1,329.1 365.6,329.4 366.1,329.9 366.6,331.9 367.1,330.6 367.6,331.1 368.1,331.5 368.6,333.0 369.1,332.9 369.6,333.8 370.1,334.1 370.6,334.7 371.1,335.9 371.6,335.7 372.1,336.4 372.6,336.8 373.1,337.2 373.6,337.9 374.1,339.3 374.6,340.5 375.1,339.6 375.6,339.7 376.1,340.5 376.6,340.7 377.1,340.9 377.6,340.9 377.6,340.9 377.1,340.9 376.6,340.7 376.1,340.8 375.6,340.4 375.1,340.1 374.6,340.5 374.1,339.9 373.6,339.2 373.1,340.7 372.6,340.8 372.1,340.5 371.6,340.8 371.1,339.8 370.6,340.4 370.1,340.7 369.6,340.6 369.1,340.8 368.6,340.2 368.1,340.0 367.6,340.3 367.1,340.6 366.6,340.9 366.1,340.6 365.6,340.4 365.1,340.5 364.6,340.8 364.1,340.6 363.6,339.8 363.1,340.1 362.6,340.5 362.1,340.8 361.6,340.7 361.1,340.7 360.6,340.1 360.1,340.7 359.6,340.0 359.1,340.8 358.6,340.0 358.1,340.8 357.6,340.0 357.1,340.9 356.6,340.8 356.1,340.4 355.6,340.4 355.1,339.7 354.6,340.5 354.1,340.6 353.6,340.9 353.1,339.0 352.6,340.9 352.1,338.5 351.6,340.9 351.1,340.7 350.6,340.7 350.1,340.6 349.6,340.8 349.1,340.9 348.6,340.7 348.1,340.9 347.6,340.2 347.1,340.5 346.6,340.8 346.1,340.5 345.6,340.7 345.1,340.9 344.6,340.8 344.1,339.6 343.6,340.6 343.1,340.8 342.6,340.3 342.1,340.7 341.6,340.7 341.1,340.9 340.6,340.5 340.1,339.2 339.6,340.8 339.1,340.3 338.6,340.2 338.1,339.6 337.6,340.7 337.1,340.9 336.6,340.4 336.1,340.3 335.6,339.6 335.1,339.5 334.6,340.8 334.1,340.2 333.6,340.3 333.1,340.2 332.6,340.8 332.1,340.9 331.6,340.9 331.1,340.0 330.6,340.8 330.1,340.0 329.6,340.7 329.1,340.6 328.6,340.3 328.1,340.0 327.6,340.4 327.1,340.9 326.6,340.8 326.1,340.8 325.6,340.9 325.1,340.3 324.6,340.9 324.1,340.4 323.6,340.0 323.1,340.3 322.6,340.7 322.1,340.4 321.6,340.9 321.1,340.9 320.6,339.9 320.1,339.7 319.6,340.8 319.1,340.9 318.6,340.7 318.1,340.8 317.6,340.7 317.1,340.9 316.6,340.7 316.1,340.8 315.6,340.7 315.1,340.5 314.6,340.7 314.1,340.8 313.6,340.6 313.1,339.9 312.6,340.5 312.1,340.7 311.6,339.8 311.1,340.3 310.6,340.6 310.1,340.6 309.6,340.8 309.1,340.7 308.6,340.7 308.1,340.1 307.6,340.6 307.1,340.0 306.6,340.9 306.1,340.8 305.6,340.4 305.1,340.8 304.6,340.8 304.1,340.7 303.6,340.9 303.1,340.9 302.6,340.9 302.1,340.9 301.6,340.9 301.1,340.7 300.6,340.8 300.1,340.6 299.6,340.7 299.1,340.3 298.6,340.9 298.1,340.9 297.6,340.9 297.1,340.9 296.6,340.9 296.1,339.6 295.6,340.8 295.1,340.6 294.6,340.5 294.1,340.9 293.6,340.9 293.1,340.9 292.6,340.9 292.1,340.9 291.6,340.3 291.1,340.2 290.6,340.9 290.1,340.5 289.6,340.6 289.1,340.9 288.6,340.9 288.1,340.9 287.6,340.9 287.1,340.9 286.6,340.8 286.1,340.6 285.6,340.4 285.1,340.0 284.6,340.9 284.1,340.8 283.6,340.7 283.1,340.9 282.6,340.7 282.1,340.4 281.6,340.8 281.1,340.6 280.6,340.8 280.1,339.8 279.6,340.1 279.1,339.5 278.6,339.6 278.1,337.4 277.6,338.6 277.1,337.9 276.6,335.5 276.1,338.0 275.6,336.6 275.1,337.8 274.6,338.1 274.1,338.9 273.6,339.1 273.1,340.1 272.6,340.7 272.1,340.4 271.6,340.6 271.1,340.5 270.6,339.7 270.1,340.5 269.6,340.9 269.1,340.7 268.6,339.3 268.1,340.0 267.6,339.7 267.1,340.5 266.6,340.9 266.1,340.8 265.6,340.6 265.1,340.2 264.6,340.7 264.1,340.7 263.6,340.3 263.1,340.6 262.6,340.5 262.1,340.2 261.6,340.5 261.1,340.6 260.6,340.2 260.1,339.9 259.6,339.7 259.1,340.2 258.6,340.2 258.1,340.3 257.6,340.1 257.1,340.5 256.6,340.7 256.1,340.8 255.6,339.3 255.1,340.9 254.6,340.6 254.1,340.2 253.6,338.5 253.1,338.8 252.6,338.0 252.1,337.3 251.6,336.5 251.1,335.3 250.6,335.7 250.1,334.9 249.6,334.4 249.1,333.8 248.6,332.9 248.1,332.5 247.6,332.1 247.1,331.2 246.6,330.2 246.1,330.4 245.6,329.7 245.1,329.1 244.6,328.7 244.1,327.8 243.6,327.7 243.1,326.0 242.6,327.3 242.1,326.9 241.6,325.3 241.1,326.2 240.6,325.8 240.1,325.7 239.6,325.7 239.1,326.1 238.6,325.8 238.1,326.4 237.6,326.2 237.1,326.2 236.6,328.2 236.1,328.3 235.6,329.0 235.1,329.9 234.6,331.3 234.1,330.8 233.6,333.4 233.1,333.6 232.6,334.6 232.1,336.1 231.6,337.0 231.1,337.0 230.6,338.2 230.1,338.1 229.6,339.4 229.1,339.5 228.6,340.2 228.1,340.9"/>
<polyline class="tr" stroke="#800080" stroke-width="1.0" points="228.1,340.9 228.1,340.9 228.6,340.2 228.6,330.4 229.1,330.1 229.1,339.5 229.6,339.4 229.6,331.4 230.1,330.3 230.1,338.1 230.6,338.2 230.6,330.4 231.1,311.4 231.1,337.0 231.6,337.0 231.6,310.2 232.1,310.2 232.1,336.1 232.6,334.6 232.6,312.0 233.1,313.9 233.1,333.6 233.6,333.4 233.6,316.3 234.1,315.7 234.1,330.8 234.6,331.3 234.6,316.7 235.1,315.6 235.1,329.9 235.6,329.0 235.6,315.6 236.1,315.4 236.1,328.3 236.6,328.2 236.6,315.7 237.1,315.4 237.1,326.2 237.6,326.2 237.6,316.1 238.1,311.2 238.1,326.4 238.6,325.8 238.6,302.4 239.1,301.4 239.1,326.1 239.6,325.7 239.6,301.5 240.1,301.5 240.1,325.7 240.6,325.8 240.6,310.6 241.1,310.1 241.1,326.2 241.6,325.3 241.6,310.3 242.1,310.2 242.1,326.9 242.6,327.3 242.6,310.5 243.1,310.5 243.1,326.0 243.6,327.7 243.6,310.4 244.1,306.8 244.1,327.8 244.6,328.7 244.6,299.4 245.1,299.4 245.1,329.1 245.6,329.7 245.6,299.6 246.1,299.5 246.1,330.4 246.6,330.2 246.6,319.3 247.1,321.1 247.1,331.2 247.6,332.1 247.6,321.2 248.1,321.3 248.1,332.5 248.6,332.9 248.6,321.1 249.1,321.0 249.1,333.8 249.6,334.4 249.6,320.8 250.1,315.0 250.1,334.9 250.6,335.7 250.6,303.1 251.1,302.9 251.1,335.3 251.6,336.5 251.6,302.8 252.1,303.0 252.1,337.3 252.6,338.0 252.6,325.0 253.1,325.4 253.1,338.8 253.6,338.5 253.6,324.7 254.1,325.0 254.1,340.2 254.6,340.6 254.6,324.9 255.1,325.3 255.1,340.9 255.6,339.3 255.6,324.8 256.1,325.3 256.1,340.8 256.6,340.7 256.6,324.9 257.1,305.9 257.1,340.5 257.6,340.1 257.6,306.3 258.1,305.7 258.1,340.3 258.6,340.2 258.6,306.0 259.1,316.7 259.1,340.2 259.6,339.7 259.6,327.9 260.1,327.4 260.1,339.9 260.6,340.2 260.6,327.3 261.1,327.8 261.1,340.6 261.6,340.5 261.6,329.0 262.1,327.6 262.1,340.2 262.6,340.5 262.6,328.4 263.1,313.6 263.1,340.6 263.6,340.3 263.6,313.6 264.1,313.5 264.1,340.7 264.6,340.7 264.6,313.7 265.1,324.5 265.1,340.2 265.6,340.6 265.6,336.3 266.1,335.6 266.1,340.8 266.6,340.9 266.6,335.5 267.1,335.8 267.1,340.5 267.6,339.7 267.6,335.4 268.1,329.5 268.1,340.0 268.6,339.3 268.6,318.2 269.1,317.4 269.1,340.7 269.6,340.9 269.6,318.5 270.1,317.4 270.1,340.5 270.6,339.7 270.6,328.1 271.1,329.4 271.1,340.5 271.6,340.6 271.6,331.9 272.1,329.0 272.1,340.4 272.6,340.7 272.6,328.9 273.1,329.1 273.1,340.1 273.6,339.1 273.6,320.1 274.1,315.7 274.1,338.9 274.6,338.1 274.6,315.6 275.1,315.7 275.1,337.8 275.6,336.6 275.6,317.8 276.1,333.0 276.1,338.0 276.6,335.5 276.6,333.2 277.1,332.9 277.1,337.9 277.6,338.6 277.6,333.5 278.1,328.4 278.1,337.4 278.6,339.6 278.6,320.2 279.1,319.4 279.1,339.5 279.6,340.1 279.6,319.9 280.1,321.6 280.1,339.8 280.6,340.8 280.6,337.9 281.1,339.5 281.1,340.6 281.6,340.8 281.6,339.7 282.1,339.4 282.1,340.4 282.6,340.7 282.6,339.8 283.1,340.9 283.1,340.9 283.6,340.7 283.6,339.4 284.1,338.3 284.1,340.8 284.6,340.9 284.6,334.6 285.1,334.2 285.1,340.0 285.6,340.4 285.6,334.4 286.1,334.1 286.1,340.6 286.6,340.8 286.6,340.8 287.1,340.9 287.1,340.9 287.6,340.9 287.6,340.9 288.1,340.9 288.1,340.9 288.6,340.9 288.6,340.9 289.1,340.9 289.1,340.9 289.6,340.6 289.6,339.8 290.1,340.2 290.1,340.5 290.6,340.9 290.6,340.2 291.1,339.3 291.1,340.2 291.6,340.3 291.6,339.7 292.1,340.9 292.1,340.9 292.6,340.9 292.6,340.9 293.1,340.9 293.1,340.9 293.6,340.9 293.6,340.9 294.1,339.8 294.1,340.9 294.6,340.5 294.6,337.8 295.1,338.3 295.1,340.6 295.6,340.8 295.6,337.2 296.1,336.7 296.1,339.6 296.6,340.9 296.6,340.9 297.1,340.9 297.1,340.9 297.6,340.9 297.6,340.9 298.1,340.9 298.1,340.9 298.6,340.9 298.6,340.9 299.1,331.6 299.1,340.3 299.6,340.7 299.6,331.5 300.1,332.4 300.1,340.6 300.6,340.8 300.6,332.1 301.1,336.2 301.1,340.7 301.6,340.9 301.6,340.9 302.1,340.9 302.1,340.9 302.6,340.9 302.6,340.9 303.1,340.9 303.1,340.9 303.6,340.9 303.6,325.8 304.1,321.5 304.1,340.7 304.6,340.8 304.6,320.8 305.1,320.8 305.1,340.8 305.6,340.4 305.6,322.1 306.1,338.2 306.1,340.8 306.6,340.9 306.6,338.6 307.1,338.2 307.1,340.0 307.6,340.6 307.6,319.1 308.1,313.6 308.1,340.1 308.6,340.7 308.6,312.8 309.1,313.3 309.1,340.7 309.6,340.8 309.6,316.0 310.1,335.5 310.1,340.6 310.6,340.6 310.6,334.1 311.1,334.1 311.1,340.3 311.6,339.8 311.6,334.2 312.1,326.9 312.1,340.7 312.6,340.5 312.6,311.5 313.1,311.5 313.1,339.9 313.6,340.6 313.6,311.4 314.1,311.7 314.1,340.8 314.6,340.7 314.6,325.5 315.1,326.5 315.1,340.5 315.6,340.7 315.6,326.2 316.1,326.0 316.1,340.8 316.6,340.7 316.6,327.0 317.1,303.2 317.1,340.9 317.6,340.7 317.6,303.1 318.1,303.0 318.1,340.8 318.6,340.7 318.6,302.7 319.1,309.1 319.1,340.9 319.6,340.8 319.6,316.0 320.1,308.7 320.1,339.7 320.6,339.9 320.6,295.4 321.1,295.7 321.1,340.9 321.6,340.9 321.6,294.8 322.1,295.2 322.1,340.4 322.6,340.7 322.6,302.8 323.1,293.2 323.1,340.3 323.6,340.0 323.6,292.8 324.1,292.9 324.1,340.4 324.6,340.9 324.6,292.8 325.1,293.9 325.1,340.3 325.6,340.9 325.6,293.3 326.1,292.4 326.1,340.8 326.6,340.8 326.6,292.1 327.1,292.3 327.1,340.9 327.6,340.4 327.6,292.3 328.1,292.2 328.1,340.0 328.6,340.3 328.6,292.6 329.1,292.4 329.1,340.6 329.6,340.7 329.6,292.9 330.1,292.3 330.1,340.0 330.6,340.8 330.6,293.1 331.1,292.5 331.1,340.0 331.6,340.9 331.6,293.0 332.1,292.7 332.1,340.9 332.6,340.8 332.6,293.4 333.1,293.9 333.1,340.2 333.6,340.3 333.6,292.7 334.1,293.0 334.1,340.2 334.6,340.8 334.6,293.7 335.1,292.9 335.1,339.5 335.6,339.6 335.6,293.2 336.1,293.5 336.1,340.3 336.6,340.4 336.6,293.9 337.1,293.3 337.1,340.9 337.6,340.7 337.6,293.7 338.1,293.5 338.1,339.6 338.6,340.2 338.6,293.3 339.1,293.3 339.1,340.3 339.6,340.8 339.6,294.1 340.1,293.9 340.1,339.2 340.6,340.5 340.6,294.6 341.1,294.8 341.1,340.9 341.6,340.7 341.6,295.5 342.1,295.9 342.1,340.7 342.6,340.3 342.6,296.5 343.1,297.5 343.1,340.8 343.6,340.6 343.6,297.7 344.1,298.5 344.1,339.6 344.6,340.8 344.6,299.3 345.1,301.0 345.1,340.9 345.6,340.7 345.6,301.1 346.1,302.4 346.1,340.5 346.6,340.8 346.6,303.1 347.1,303.8 347.1,340.5 347.6,340.2 347.6,304.4 348.1,305.8 348.1,340.9 348.6,340.7 348.6,305.9 349.1,306.7 349.1,340.9 349.6,340.8 349.6,307.6 350.1,308.8 350.1,340.6 350.6,340.7 350.6,309.1 351.1,310.2 351.1,340.7 351.6,340.9 351.6,310.8 352.1,311.5 352.1,338.5 352.6,340.9 352.6,312.7 353.1,313.1 353.1,339.0 353.6,340.9 353.6,313.4 354.1,313.8 354.1,340.6 354.6,340.5 354.6,314.1 355.1,314.5 355.1,339.7 355.6,340.4 355.6,315.5 356.1,317.0 356.1,340.4 356.6,340.8 356.6,316.7 357.1,317.7 357.1,340.9 357.6,340.0 357.6,319.3 358.1,319.8 358.1,340.8 358.6,340.0 358.6,321.1 359.1,322.9 359.1,340.8 359.6,340.0 359.6,323.4 360.1,324.2 360.1,340.7 360.6,340.1 360.6,324.2 361.1,324.8 361.1,340.7 361.6,340.7 361.6,325.6 362.1,326.7 362.1,340.8 362.6,340.5 362.6,326.4 363.1,327.5 363.1,340.1 363.6,339.8 363.6,328.2 364.1,329.6 364.1,340.6 364.6,340.8 364.6,328.9 365.1,329.1 365.1,340.5 365.6,340.4 365.6,329.4 366.1,329.9 366.1,340.6 366.6,340.9 366.6,331.9 367.1,330.6 367.1,340.6 367.6,340.3 367.6,331.1 368.1,331.5 368.1,340.0 368.6,340.2 368.6,333.0 369.1,332.9 369.1,340.8 369.6,340.6 369.6,333.8 370.1,334.1 370.1,340.7 370.6,340.4 370.6,334.7 371.1,335.9 371.1,339.8 371.6,340.8 371.6,335.7 372.1,336.4 372.1,340.5 372.6,340.8 372.6,336.8 373.1,337.2 373.1,340.7 373.6,339.2 373.6,337.9 374.1,339.3 374.1,339.9 374.6,340.5 374.6,340.5 375.1,339.6 375.1,340.1 375.6,340.4 375.6,339.7 376.1,340.5 376.1,340.8 376.6,340.7 376.6,340.7 377.1,340.9 377.1,340.9 377.6,340.9 377.6,340.9"/>
<polygon fill="#800080" points="418.0,340.9 418.5,340.3 419.0,339.5 419.5,339.0 420.0,337.7 420.5,336.4 421.0,337.2 421.5,337.7 422.0,338.9 422.5,339.6 423.0,340.5 423.5,340.9 424.0,340.9 424.5,340.9 425.0,340.9 425.5,340.9 426.0,340.9 426.5,340.9 427.0,340.9 427.5,339.6 428.0,338.5 428.5,337.9 429.0,336.5 429.5,335.7 430.0,334.6 430.5,333.2 431.0,334.0 431.5,334.8 432.0,336.4 432.5,337.8 433.0,338.6 433.5,340.0 434.0,340.9 434.5,340.9 435.0,340.9 435.5,340.9 436.0,340.9 436.5,340.9 437.0,340.9 437.5,340.9 438.0,340.5 438.5,338.9 439.0,338.9 439.5,336.8 440.0,335.2 440.5,335.7 441.0,334.8 441.5,336.7 442.0,337.4 442.5,339.7 443.0,339.9 443.5,340.7 444.0,340.9 444.5,340.9 445.0,340.9 445.5,340.9 446.0,340.9 446.5,340.4 447.0,338.8 447.5,338.6 448.0,336.6 448.5,336.4 449.0,334.8 449.5,335.0 450.0,333.9 450.5,333.8 451.0,335.5 451.5,335.9 452.0,337.5 452.5,338.4 453.0,339.5 453.5,339.3 454.0,340.2 454.5,340.9 455.0,340.9 455.5,340.9 456.0,340.9 456.0,340.9 455.5,340.9 455.0,340.9 454.5,340.9 454.0,340.9 453.5,340.9 453.0,340.9 452.5,340.9 452.0,340.9 451.5,340.9 451.0,340.9 450.5,340.9 450.0,340.9 449.5,340.9 449.0,340.9 448.5,340.9 448.0,340.9 447.5,340.9 447.0,340.9 446.5,340.9 446.0,340.9 445.5,340.9 445.0,340.9 444.5,340.9 444.0,340.9 443.5,340.9 443.0,340.9 442.5,340.9 442.0,340.9 441.5,340.9 441.0,340.9 440.5,340.9 440.0,340.9 439.5,340.9 439.0,340.9 438.5,340.9 438.0,340.9 437.5,340.9 437.0,340.9 436.5,340.9 436.0,340.9 435.5,340.9 435.0,340.9 434.5,340.9 434.0,340.9 433.5,340.9 433.0,340.9 432.5,340.9 432.0,340.9 431.5,340.9 431.0,340.9 430.5,340.9 430.0,340.9 429.5,340.9 429.0,340.9 428.5,340.9 428.0,340.9 427.5,340.9 427.0,340.9 426.5,340.9 426.0,340.9 425.5,340.9 425.0,340.9 424.5,340.9 424.0,340.9 423.5,340.9 423.0,340.9 422.5,340.9 422.0,340.9 421.5,340.9 421.0,340.9 420.5,340.9 420.0,340.9 419.5,340.9 419.0,340.9 418.5,340.9 418.0,340.9"/>
<polyline class="tr" stroke="#800080" stroke-width="1.0" points="418.0,340.9 418.0,340.9 418.5,340.9 418.5,340.3 419.0,339.5 419.0,340.9 419.5,340.9 419.5,339.0 420.0,337.7 420.0,340.9 420.5,340.9 420.5,336.4 421.0,337.2 421.0,340.9 421.5,340.9 421.5,337.7 422.0,338.9 422.0,340.9 422.5,340.9 422.5,339.6 423.0,340.5 423.0,340.9 423.5,340.9 423.5,340.9 424.0,340.9 424.0,340.9 424.5,340.9 424.5,340.9 425.0,340.9 425.0,340.9 425.5,340.9 425.5,340.9 426.0,340.9 426.0,340.9 426.5,340.9 426.5,340.9 427.0,340.9 427.0,340.9 427.5,340.9 427.5,339.6 428.0,338.5 428.0,340.9 428.5,340.9 428.5,337.9 429.0,336.5 429.0,340.9 429.5,340.9 429.5,335.7 430.0,334.6 430.0,340.9 430.5,340.9 430.5,333.2 431.0,334.0 431.0,340.9 431.5,340.9 431.5,334.8 432.0,336.4 432.0,340.9 432.5,340.9 432.5,337.8 433.0,338.6 433.0,340.9 433.5,340.9 433.5,340.0 434.0,340.9 434.0,340.9 434.5,340.9 434.5,340.9 435.0,340.9 435.0,340.9 435.5,340.9 435.5,340.9 436.0,340.9 436.0,340.9 436.5,340.9 436.5,340.9 437.0,340.9 437.0,340.9 437.5,340.9 437.5,340.9 438.0,340.5 438.0,340.9 438.5,340.9 438.5,338.9 439.0,338.9 439.0,340.9 439.5,340.9 439.5,336.8 440.0,335.2 440.0,340.9 440.5,340.9 440.5,335.7 441.0,334.8 441.0,340.9 441.5,340.9 441.5,336.7 442.0,337.4 442.0,340.9 442.5,340.9 442.5,339.7 443.0,339.9 443.0,340.9 443.5,340.9 443.5,340.7 444.0,340.9 444.0,340.9 444.5,340.9 444.5,340.9 445.0,340.9 445.0,340.9 445.5,340.9 445.5,340.9 446.0,340.9 446.0,340.9 446.5,340.9 446.5,340.4 447.0,338.8 447.0,340.9 447.5,340.9 447.5,338.6 448.0,336.6 448.0,340.9 448.5,340.9 448.5,336.4 449.0,334.8 449.0,340.9 449.5,340.9 449.5,335.0 450.0,333.9 450.0,340.9 450.5,340.9 450.5,333.8 451.0,335.5 451.0,340.9 451.5,340.9 451.5,335.9 452.0,337.5 452.0,340.9 452.5,340.9 452.5,338.4 453.0,339.5 453.0,340.9 453.5,340.9 453.5,339.3 454.0,340.2 454.0,340.9 454.5,340.9 454.5,340.9 455.0,340.9 455.0,340.9 455.5,340.9 455.5,340.9 456.0,340.9 456.0,340.9"/>
<polyline class="tr" stroke="#800080" stroke-width="2.3" points="455.3,340.5 455.9,336.1 456.5,330.1 457.1,326.9 457.7,325.5 458.3,321.6 458.9,316.0 459.5,315.0 460.1,321.4 460.7,327.3 461.3,332.1 461.9,328.1 462.5,327.5 463.1,325.5 463.7,324.8 464.3,322.4 464.9,319.6 465.5,318.3 466.1,315.4 466.7,319.4 467.3,319.3 467.9,322.2 468.5,325.5 469.1,326.4 469.7,329.5 470.3,331.2 470.9,332.8 471.5,327.9 472.1,323.0 472.7,319.2 473.3,311.8 473.9,316.4 474.5,318.9 475.1,320.9 475.7,324.0 476.3,326.9 476.9,326.3 477.5,325.9 478.1,322.8 478.7,320.2 479.3,317.3 479.9,313.2 480.5,312.5 481.1,307.8 481.7,310.3 482.3,312.1 482.9,314.4 483.5,318.0 484.1,316.7 484.7,318.0 485.3,319.8 485.9,318.0 486.5,313.5 487.1,313.0 487.7,313.2 488.3,317.7 488.9,321.4 489.5,323.8 490.1,328.8 490.7,334.3 491.3,336.2 491.9,336.5 492.5,332.7 493.1,328.7 493.7,324.5 494.3,324.6 494.9,328.7 495.5,333.8 496.1,336.0 496.7,340.4 497.3,333.0 497.9,331.9 498.5,329.4 499.1,325.8 499.7,321.3 500.3,320.0 500.9,319.6 501.5,316.3 502.1,319.4 502.7,322.2 503.3,325.6 503.9,329.7 504.5,324.1 505.1,314.7 505.7,311.8 506.3,308.5 506.9,311.8 507.5,317.5 508.1,319.0 508.7,320.3 509.3,317.6 509.9,314.1 510.5,310.5 511.1,307.8 511.7,305.8 512.3,305.0 512.9,305.6 513.5,312.4 514.1,310.8 514.7,313.6 515.3,308.7 515.9,304.7 516.5,298.7 517.1,294.7 517.7,296.6 518.3,297.0 518.9,298.3 519.5,302.4 520.1,302.8 520.7,301.6 521.3,300.5 521.9,299.0 522.5,296.7 523.1,299.7 523.7,301.4 524.3,303.0 524.9,308.0 525.5,309.5 526.1,312.7 526.7,308.2 527.3,306.9 527.9,304.1 528.5,298.4 529.1,301.5 529.7,305.1 530.3,310.9 530.9,310.6 531.5,314.8 532.1,312.4 532.7,309.1 533.3,306.7 533.9,308.3 534.5,311.6 535.1,314.6 535.7,313.0 536.3,309.1 536.9,303.9 537.5,299.2 538.1,296.3 538.7,298.1 539.3,296.7 539.9,297.9 540.5,296.2 541.1,293.1 541.7,287.0 542.3,276.4 542.9,275.3 543.5,277.6 544.1,280.9 544.7,279.8 545.3,280.3 545.9,280.0"/>
<line x1="545.8" y1="275" x2="545.8" y2="340.9" stroke="#800080" stroke-width="1.8"/>
<polyline class="tr" stroke="#800080" stroke-width="1.1" points="546.7,340.9 546.7,340.9 547.7,340.9 547.7,340.9 548.7,340.9 548.7,340.9 549.7,340.9 549.7,340.9 550.7,340.9 550.7,340.9 551.7,340.6 551.7,340.5 552.7,338.9 552.7,340.6 553.7,340.9 553.7,340.9 554.7,335.6 554.7,340.5 555.7,340.9 555.7,339.3 556.7,340.9 556.7,340.9 557.7,340.9 557.7,340.9 558.7,340.9 558.7,340.9 559.7,340.9 559.7,340.9 560.7,339.9 560.7,340.3 561.7,340.9 561.7,340.9 562.7,340.9 562.7,340.9 563.7,339.7 563.7,339.7 564.7,336.8 564.7,340.6 565.7,340.9 565.7,340.9 566.7,337.0 566.7,340.2 567.7,340.9 567.7,334.4 568.7,339.0 568.7,340.5 569.7,340.9 569.7,340.9 570.7,331.4 570.7,340.3 571.7,340.9 571.7,330.0 572.7,327.3 572.7,338.9 573.7,340.7 573.7,325.2 574.7,324.2 574.7,340.7 575.7,340.3 575.7,325.5 576.7,338.4 576.7,340.7 577.7,340.5 577.7,326.3 578.7,332.9 578.7,339.5 579.7,340.8 579.7,323.2 580.7,322.6 580.7,340.8 581.7,340.4 581.7,334.1 582.7,339.2 582.7,340.8 583.7,339.9 583.7,322.9 584.7,322.9 584.7,340.2 585.7,340.7 585.7,321.7 586.7,328.3 586.7,340.8 587.7,340.6 587.7,324.4 588.7,329.0 588.7,340.8 589.7,340.2 589.7,323.3 590.7,322.6 590.7,339.9 591.7,340.9 591.7,321.5"/>
<polygon fill="#800080" points="592.5,316.6 593.5,311.6 594.5,309.6 595.5,307.2 596.5,306.4 597.5,303.5 598.5,303.7 599.5,307.2 600.5,304.2 601.5,307.6 602.5,309.5 603.5,312.0 604.5,314.0 605.5,317.1 606.5,318.0 607.5,317.6 608.5,317.2 609.5,316.7 610.5,316.3 611.5,315.0 612.5,316.5 613.5,312.6 614.5,312.9 615.5,308.7 616.5,306.7 617.5,308.3 618.5,311.5 619.5,311.2 620.5,311.4 621.5,310.4 622.5,311.3 623.5,312.9 624.5,311.5 625.5,311.8 626.5,310.8 627.5,309.8 628.5,315.9 629.5,308.4 630.5,307.5 631.5,307.5 632.5,307.1 633.5,308.8 634.5,308.8 635.5,306.7 636.5,305.9 637.5,304.5 638.5,303.4 639.5,305.4 640.5,303.8 641.5,302.7 642.5,303.7 643.5,303.0 644.5,301.8 645.5,301.6 646.5,300.8 647.5,299.3 648.5,299.0 649.5,299.2 650.5,299.2 651.5,298.5 652.5,301.3 653.5,298.8 654.5,299.4 655.5,297.1 656.5,297.2 657.5,298.0 658.5,297.8 659.5,295.5 660.5,296.5 661.5,294.1 662.5,293.5 663.5,294.9 664.5,293.1 665.5,292.6 666.5,293.6 667.5,293.1 668.5,294.2 669.5,293.9 670.5,292.8 671.5,291.8 672.5,291.1 673.5,290.3 674.5,290.1 675.5,291.0 676.5,289.3 677.5,290.4 678.5,288.8 679.5,287.2 680.5,288.2 681.5,286.3 682.5,285.8 683.5,286.0 684.5,284.5 685.5,285.2 686.5,283.2 687.5,285.1 688.5,285.6 689.5,281.3 690.5,280.6 691.5,281.2 692.5,279.7 693.5,281.0 694.5,277.6 695.5,277.7 696.5,278.7 697.5,276.9 698.5,276.4 699.5,276.2 700.5,276.3 701.5,275.2 702.5,275.6 703.5,275.6 704.5,273.6 705.5,273.2 706.5,272.9 707.5,273.9 708.5,271.7 709.5,272.5 710.5,270.5 711.5,270.9 712.5,279.0 712.5,290.5 711.5,293.4 710.5,294.1 709.5,295.7 708.5,296.1 707.5,297.3 706.5,298.6 705.5,297.2 704.5,299.5 703.5,298.6 702.5,300.0 701.5,301.6 700.5,300.7 699.5,300.7 698.5,302.1 697.5,300.4 696.5,302.6 695.5,302.8 694.5,302.8 693.5,302.6 692.5,303.8 691.5,304.4 690.5,305.3 689.5,304.5 688.5,304.7 687.5,306.3 686.5,305.9 685.5,306.7 684.5,306.5 683.5,307.8 682.5,308.2 681.5,309.2 680.5,308.6 679.5,309.5 678.5,308.2 677.5,310.7 676.5,310.8 675.5,311.2 674.5,311.8 673.5,311.6 672.5,313.1 671.5,313.1 670.5,313.6 669.5,313.2 668.5,313.3 667.5,311.3 666.5,312.2 665.5,305.8 664.5,313.1 663.5,313.0 662.5,314.0 661.5,314.9 660.5,314.9 659.5,312.6 658.5,314.3 657.5,311.4 656.5,312.9 655.5,312.2 654.5,314.0 653.5,313.6 652.5,313.7 651.5,314.8 650.5,314.8 649.5,314.7 648.5,314.0 647.5,316.3 646.5,317.2 645.5,318.5 644.5,318.7 643.5,320.0 642.5,320.8 641.5,320.7 640.5,316.1 639.5,322.1 638.5,321.8 637.5,319.8 636.5,323.7 635.5,324.8 634.5,325.9 633.5,324.7 632.5,327.0 631.5,327.5 630.5,327.3 629.5,325.9 628.5,329.7 627.5,330.3 626.5,330.9 625.5,328.2 624.5,332.7 623.5,330.8 622.5,326.7 621.5,329.7 620.5,328.6 619.5,328.8 618.5,326.9 617.5,326.0 616.5,328.2 615.5,330.1 614.5,330.5 613.5,328.5 612.5,332.6 611.5,332.8 610.5,334.0 609.5,333.6 608.5,334.8 607.5,335.5 606.5,334.4 605.5,331.6 604.5,326.3 603.5,329.3 602.5,326.6 601.5,324.7 600.5,320.6 599.5,320.6 598.5,316.8 597.5,316.5 596.5,321.2 595.5,322.8 594.5,326.2 593.5,330.2 592.5,333.9"/>
<polyline class="tr" stroke="#800080" stroke-width="1.4" points="592.5,316.6 592.5,333.9 593.5,330.2 593.5,311.6 594.5,309.6 594.5,326.2 595.5,322.8 595.5,307.2 596.5,306.4 596.5,321.2 597.5,316.5 597.5,303.5 598.5,303.7 598.5,316.8 599.5,320.6 599.5,307.2 600.5,304.2 600.5,320.6 601.5,324.7 601.5,307.6 602.5,309.5 602.5,326.6 603.5,329.3 603.5,312.0 604.5,314.0 604.5,326.3 605.5,331.6 605.5,317.1 606.5,318.0 606.5,334.4 607.5,335.5 607.5,317.6 608.5,317.2 608.5,334.8 609.5,333.6 609.5,316.7 610.5,316.3 610.5,334.0 611.5,332.8 611.5,315.0 612.5,316.5 612.5,332.6 613.5,328.5 613.5,312.6 614.5,312.9 614.5,330.5 615.5,330.1 615.5,308.7 616.5,306.7 616.5,328.2 617.5,326.0 617.5,308.3 618.5,311.5 618.5,326.9 619.5,328.8 619.5,311.2 620.5,311.4 620.5,328.6 621.5,329.7 621.5,310.4 622.5,311.3 622.5,326.7 623.5,330.8 623.5,312.9 624.5,311.5 624.5,332.7 625.5,328.2 625.5,311.8 626.5,310.8 626.5,330.9 627.5,330.3 627.5,309.8 628.5,315.9 628.5,329.7 629.5,325.9 629.5,308.4 630.5,307.5 630.5,327.3 631.5,327.5 631.5,307.5 632.5,307.1 632.5,327.0 633.5,324.7 633.5,308.8 634.5,308.8 634.5,325.9 635.5,324.8 635.5,306.7 636.5,305.9 636.5,323.7 637.5,319.8 637.5,304.5 638.5,303.4 638.5,321.8 639.5,322.1 639.5,305.4 640.5,303.8 640.5,316.1 641.5,320.7 641.5,302.7 642.5,303.7 642.5,320.8 643.5,320.0 643.5,303.0 644.5,301.8 644.5,318.7 645.5,318.5 645.5,301.6 646.5,300.8 646.5,317.2 647.5,316.3 647.5,299.3 648.5,299.0 648.5,314.0 649.5,314.7 649.5,299.2 650.5,299.2 650.5,314.8 651.5,314.8 651.5,298.5 652.5,301.3 652.5,313.7 653.5,313.6 653.5,298.8 654.5,299.4 654.5,314.0 655.5,312.2 655.5,297.1 656.5,297.2 656.5,312.9 657.5,311.4 657.5,298.0 658.5,297.8 658.5,314.3 659.5,312.6 659.5,295.5 660.5,296.5 660.5,314.9 661.5,314.9 661.5,294.1 662.5,293.5 662.5,314.0 663.5,313.0 663.5,294.9 664.5,293.1 664.5,313.1 665.5,305.8 665.5,292.6 666.5,293.6 666.5,312.2 667.5,311.3 667.5,293.1 668.5,294.2 668.5,313.3 669.5,313.2 669.5,293.9 670.5,292.8 670.5,313.6 671.5,313.1 671.5,291.8 672.5,291.1 672.5,313.1 673.5,311.6 673.5,290.3 674.5,290.1 674.5,311.8 675.5,311.2 675.5,291.0 676.5,289.3 676.5,310.8 677.5,310.7 677.5,290.4 678.5,288.8 678.5,308.2 679.5,309.5 679.5,287.2 680.5,288.2 680.5,308.6 681.5,309.2 681.5,286.3 682.5,285.8 682.5,308.2 683.5,307.8 683.5,286.0 684.5,284.5 684.5,306.5 685.5,306.7 685.5,285.2 686.5,283.2 686.5,305.9 687.5,306.3 687.5,285.1 688.5,285.6 688.5,304.7 689.5,304.5 689.5,281.3 690.5,280.6 690.5,305.3 691.5,304.4 691.5,281.2 692.5,279.7 692.5,303.8 693.5,302.6 693.5,281.0 694.5,277.6 694.5,302.8 695.5,302.8 695.5,277.7 696.5,278.7 696.5,302.6 697.5,300.4 697.5,276.9 698.5,276.4 698.5,302.1 699.5,300.7 699.5,276.2 700.5,276.3 700.5,300.7 701.5,301.6 701.5,275.2 702.5,275.6 702.5,300.0 703.5,298.6 703.5,275.6 704.5,273.6 704.5,299.5 705.5,297.2 705.5,273.2 706.5,272.9 706.5,298.6 707.5,297.3 707.5,273.9 708.5,271.7 708.5,296.1 709.5,295.7 709.5,272.5 710.5,270.5 710.5,294.1 711.5,293.4 711.5,270.9 712.5,279.0 712.5,290.5"/>
<line x1="209.55" y1="210.44" x2="219.35" y2="210.44" stroke="#992200" class="lim"/>
<line x1="229.25" y1="210.44" x2="271.85" y2="210.44" stroke="#992200" class="lim"/>
<line x1="272.25" y1="223.52" x2="405.20" y2="223.52" stroke="#992200" class="lim"/>
<line x1="443.28" y1="243.13" x2="468.46" y2="243.13" stroke="#992200" class="lim"/>
<line x1="468.86" y1="236.59" x2="517.97" y2="236.59" stroke="#992200" class="lim"/>
<line x1="546.25" y1="223.52" x2="558.97" y2="223.52" stroke="#992200" class="lim"/>
<line x1="578.79" y1="223.52" x2="619.44" y2="223.52" stroke="#992200" class="lim"/>
<line x1="619.84" y1="138.52" x2="703.67" y2="138.52" stroke="#992200" class="lim"/>
<line x1="704.07" y1="184.29" x2="705.98" y2="184.29" stroke="#992200" class="lim"/>
<line x1="209.55" y1="79.68" x2="219.35" y2="79.68" stroke="#ff0000" class="lim"/>
<line x1="229.25" y1="79.68" x2="271.85" y2="79.68" stroke="#ff0000" class="lim"/>
<line x1="272.25" y1="158.14" x2="377.00" y2="158.14" stroke="#ff0000" class="lim"/>
<line x1="377.40" y1="92.76" x2="405.20" y2="92.76" stroke="#ff0000" class="lim"/>
<line x1="443.28" y1="112.37" x2="468.46" y2="112.37" stroke="#ff0000" class="lim"/>
<line x1="468.86" y1="171.21" x2="517.97" y2="171.21" stroke="#ff0000" class="lim"/>
<line x1="546.25" y1="131.98" x2="558.97" y2="131.98" stroke="#ff0000" class="lim"/>
<line x1="578.79" y1="92.76" x2="592.17" y2="92.76" stroke="#ff0000" class="lim"/>
<line x1="592.57" y1="131.98" x2="601.67" y2="131.98" stroke="#ff0000" class="lim"/>
<line x1="602.07" y1="92.76" x2="619.44" y2="92.76" stroke="#ff0000" class="lim"/>
<line x1="619.84" y1="73.14" x2="703.67" y2="73.14" stroke="#ff0000" class="lim"/>
<line x1="704.07" y1="53.53" x2="705.98" y2="53.53" stroke="#ff0000" class="lim"/>
<text x="62.0" y="348.7" text-anchor="end" class="t">0</text>
<text x="62.0" y="283.3" text-anchor="end" class="t">10</text>
<text x="62.0" y="217.9" text-anchor="end" class="t">20</text>
<text x="62.0" y="152.6" text-anchor="end" class="t">30</text>
<text x="62.0" y="87.2" text-anchor="end" class="t">40</text>
<text x="62.0" y="20.8" text-anchor="end" class="t">50</text>
<text x="77.3" y="370.5" text-anchor="middle" class="t">10</text>
<text x="394.3" y="370.5" text-anchor="middle" class="t">100</text>
<text x="711.3" y="370.5" text-anchor="middle" class="t">1000</text>
<text x="91.4" y="42.8" class="hv" style="font-size:31px" fill="#ff00ff">H</text>
<text transform="translate(20.6,250.5) rotate(-90)" class="t" id="yl1" textLength="184.5" lengthAdjust="spacing">Noise Level[dBuV/m]</text>
<text x="310.0" y="409.4" class="t" id="xl1" textLength="146.8" lengthAdjust="spacing">Frequency[MHz]</text>
</g>
<g id="right">
<line x1="947.84" y1="13.10" x2="947.84" y2="339.90" class="dash"/>
<line x1="1002.68" y1="13.10" x2="1002.68" y2="339.90" class="dash"/>
<line x1="1041.58" y1="13.10" x2="1041.58" y2="339.90" class="dash"/>
<line x1="1071.76" y1="13.10" x2="1071.76" y2="339.90" class="dash"/>
<line x1="1096.42" y1="13.10" x2="1096.42" y2="339.90" class="dash"/>
<line x1="1117.26" y1="13.10" x2="1117.26" y2="339.90" class="dash"/>
<line x1="1135.32" y1="13.10" x2="1135.32" y2="339.90" class="dash"/>
<line x1="1151.25" y1="13.10" x2="1151.25" y2="339.90" class="dash"/>
<line x1="1259.24" y1="13.10" x2="1259.24" y2="339.90" class="dash"/>
<line x1="1314.08" y1="13.10" x2="1314.08" y2="339.90" class="dash"/>
<line x1="1352.98" y1="13.10" x2="1352.98" y2="339.90" class="dash"/>
<line x1="1383.16" y1="13.10" x2="1383.16" y2="339.90" class="dash"/>
<line x1="1407.82" y1="13.10" x2="1407.82" y2="339.90" class="dash"/>
<line x1="1428.66" y1="13.10" x2="1428.66" y2="339.90" class="dash"/>
<line x1="1446.72" y1="13.10" x2="1446.72" y2="339.90" class="dash"/>
<line x1="1462.65" y1="13.10" x2="1462.65" y2="339.90" class="dash"/>
<line x1="1165.80" y1="13.10" x2="1165.80" y2="339.90" class="maj"/>
<line x1="854.40" y1="274.54" x2="1477.20" y2="274.54" class="maj"/>
<line x1="854.40" y1="209.18" x2="1477.20" y2="209.18" class="maj"/>
<line x1="854.40" y1="143.82" x2="1477.20" y2="143.82" class="maj"/>
<line x1="854.40" y1="78.46" x2="1477.20" y2="78.46" class="maj"/>
<rect x="854.40" y="13.10" width="622.80" height="326.80" class="frame"/>
<polygon fill="#0000ff" points="1002.3,254.7 1003.3,250.6 1004.3,224.9 1005.3,223.1 1006.3,224.0 1007.3,221.9 1008.3,226.6 1009.3,229.6 1010.3,229.7 1011.3,224.4 1012.3,222.0 1013.3,226.2 1014.3,225.7 1015.3,226.1 1016.3,234.1 1017.3,238.7 1018.3,235.7 1019.3,234.7 1020.3,235.9 1021.3,234.6 1022.3,247.4 1023.3,244.0 1024.3,245.6 1025.3,251.6 1026.3,251.4 1027.3,260.4 1028.3,261.6 1029.3,274.0 1030.3,267.2 1031.3,267.7 1032.3,270.0 1033.3,275.1 1034.3,276.3 1035.3,284.4 1036.3,278.5 1037.3,283.7 1038.3,273.3 1039.3,271.4 1040.3,271.9 1041.3,263.3 1042.3,273.2 1043.3,258.8 1044.3,257.0 1045.3,259.3 1046.3,255.3 1047.3,253.4 1048.3,254.9 1049.3,251.9 1050.3,252.0 1051.3,253.8 1052.3,251.4 1053.3,253.3 1054.3,251.4 1055.3,255.1 1056.3,257.4 1057.3,259.6 1058.3,261.6 1059.3,260.1 1060.3,267.2 1061.3,260.9 1062.3,260.7 1063.3,261.9 1064.3,261.4 1065.3,263.3 1066.3,264.0 1067.3,259.1 1068.3,255.3 1069.3,252.9 1070.3,256.7 1071.3,254.6 1072.3,254.7 1073.3,251.5 1074.3,250.6 1075.3,255.0 1076.3,255.4 1077.3,249.3 1078.3,249.7 1079.3,253.1 1080.3,256.8 1081.3,262.0 1082.3,257.9 1083.3,260.8 1084.3,259.2 1085.3,259.5 1086.3,260.3 1087.3,264.3 1088.3,265.9 1089.3,267.0 1090.3,267.8 1091.3,263.8 1092.3,260.1 1093.3,261.1 1094.3,253.8 1095.3,253.4 1096.3,250.1 1097.3,254.1 1098.3,253.4 1099.3,253.0 1100.3,255.6 1101.3,261.5 1102.3,257.6 1103.3,259.6 1104.3,260.3 1105.3,261.2 1106.3,268.2 1107.3,262.9 1108.3,262.2 1109.3,259.4 1110.3,260.4 1111.3,258.6 1112.3,261.5 1113.3,265.2 1114.3,261.3 1115.3,261.9 1116.3,260.5 1117.3,260.9 1118.3,258.1 1119.3,257.7 1120.3,261.5 1121.3,263.3 1122.3,264.5 1123.3,264.5 1124.3,264.9 1125.3,262.1 1126.3,263.1 1127.3,260.5 1128.3,261.9 1129.3,264.6 1130.3,257.9 1131.3,259.8 1132.3,267.6 1133.3,262.7 1134.3,268.0 1135.3,265.5 1136.3,271.2 1137.3,262.4 1138.3,269.5 1139.3,262.2 1140.3,263.8 1141.3,261.7 1142.3,260.3 1143.3,260.9 1144.3,258.8 1145.3,262.2 1146.3,261.8 1147.3,269.4 1148.3,269.2 1149.3,265.4 1150.3,268.1 1151.3,264.8 1152.3,265.1 1153.3,268.2 1154.3,263.6 1155.3,263.8 1156.3,271.5 1157.3,267.6 1158.3,266.3 1159.3,268.2 1160.3,273.0 1161.3,267.6 1162.3,265.8 1163.3,264.8 1164.3,263.8 1165.3,263.8 1166.3,261.6 1167.3,258.6 1168.3,256.9 1169.3,257.5 1170.3,257.8 1171.3,262.5 1172.3,263.0 1173.3,263.2 1174.3,265.2 1175.3,266.9 1176.3,265.6 1177.3,265.6 1178.3,260.8 1179.3,258.7 1180.3,263.7 1181.3,267.9 1182.3,269.4 1183.3,267.6 1184.3,267.1 1185.3,264.5 1186.3,261.9 1187.3,259.2 1188.3,256.4 1189.3,253.5 1190.3,253.8 1191.3,255.6 1192.3,257.1 1193.3,259.7 1194.3,260.8 1195.3,263.8 1196.3,264.5 1197.3,261.7 1198.3,253.6 1199.3,248.5 1200.3,251.9 1201.3,261.5 1202.3,255.2 1203.3,261.0 1204.3,260.0 1205.3,263.4 1206.3,254.0 1207.3,252.9 1208.3,253.7 1209.3,248.9 1210.3,250.1 1211.3,253.7 1212.3,255.4 1213.3,261.1 1214.3,256.1 1215.3,254.1 1216.3,249.8 1217.3,251.0 1218.3,247.9 1219.3,245.2 1220.3,246.1 1221.3,247.7 1222.3,252.2 1223.3,250.7 1224.3,248.7 1225.3,245.1 1226.3,243.6 1227.3,249.5 1228.3,239.4 1229.3,237.3 1230.3,238.7 1231.3,235.7 1232.3,235.4 1233.3,234.0 1234.3,232.6 1235.3,233.0 1236.3,229.3 1237.3,228.4 1238.3,230.5 1239.3,231.6 1240.3,231.3 1241.3,228.4 1242.3,226.7 1243.3,224.4 1244.3,233.4 1245.3,232.4 1246.3,232.6 1247.3,231.1 1248.3,230.0 1249.3,229.7 1250.3,228.0 1251.3,228.2 1252.3,228.7 1253.3,230.7 1254.3,238.1 1255.3,225.3 1256.3,217.5 1257.3,219.4 1258.3,220.5 1259.3,223.5 1260.3,227.9 1261.3,225.8 1262.3,237.8 1263.3,220.2 1264.3,219.7 1265.3,225.9 1266.3,225.0 1267.3,236.6 1268.3,223.8 1269.3,224.0 1270.3,224.9 1271.3,226.9 1272.3,227.5 1273.3,220.7 1274.3,214.4 1275.3,216.3 1276.3,212.8 1277.3,212.7 1278.3,213.9 1279.3,206.7 1280.3,202.0 1281.3,201.5 1282.3,201.7 1283.3,202.3 1284.3,199.8 1285.3,193.3 1286.3,188.1 1287.3,194.5 1288.3,200.9 1289.3,198.1 1290.3,202.7 1291.3,204.3 1292.3,201.8 1293.3,210.4 1294.3,216.4 1295.3,215.7 1296.3,215.4 1297.3,220.1 1298.3,227.1 1299.3,227.7 1300.3,223.9 1301.3,218.8 1302.3,217.3 1303.3,217.8 1304.3,208.6 1305.3,206.8 1306.3,203.4 1307.3,202.6 1308.3,198.5 1309.3,199.7 1310.3,193.6 1311.3,199.9 1312.3,201.1 1313.3,203.3 1314.3,196.7 1314.3,224.4 1313.3,225.5 1312.3,219.9 1311.3,213.0 1310.3,217.9 1309.3,219.8 1308.3,222.1 1307.3,219.6 1306.3,227.3 1305.3,230.9 1304.3,234.1 1303.3,235.1 1302.3,235.8 1301.3,242.3 1300.3,244.2 1299.3,246.9 1298.3,246.6 1297.3,248.4 1296.3,242.4 1295.3,235.6 1294.3,216.8 1293.3,223.5 1292.3,216.1 1291.3,218.2 1290.3,215.9 1289.3,212.6 1288.3,204.7 1287.3,209.8 1286.3,207.6 1285.3,215.6 1284.3,215.4 1283.3,215.6 1282.3,221.8 1281.3,223.9 1280.3,227.2 1279.3,224.9 1278.3,232.7 1277.3,230.7 1276.3,231.9 1275.3,238.4 1274.3,240.7 1273.3,245.1 1272.3,236.6 1271.3,245.3 1270.3,245.6 1269.3,241.7 1268.3,238.5 1267.3,244.2 1266.3,245.3 1265.3,243.6 1264.3,244.8 1263.3,244.6 1262.3,242.7 1261.3,240.8 1260.3,239.8 1259.3,232.1 1258.3,239.6 1257.3,236.0 1256.3,241.9 1255.3,237.9 1254.3,249.9 1253.3,253.4 1252.3,248.6 1251.3,253.9 1250.3,250.7 1249.3,249.8 1248.3,240.5 1247.3,249.8 1246.3,250.0 1245.3,255.4 1244.3,257.4 1243.3,256.7 1242.3,256.1 1241.3,256.7 1240.3,255.6 1239.3,249.3 1238.3,252.3 1237.3,250.8 1236.3,249.2 1235.3,252.6 1234.3,256.0 1233.3,256.0 1232.3,261.1 1231.3,260.7 1230.3,260.8 1229.3,261.2 1228.3,253.1 1227.3,249.5 1226.3,264.2 1225.3,266.1 1224.3,269.1 1223.3,271.8 1222.3,271.2 1221.3,269.7 1220.3,267.7 1219.3,265.8 1218.3,268.1 1217.3,270.1 1216.3,275.5 1215.3,279.2 1214.3,281.0 1213.3,277.2 1212.3,274.0 1211.3,268.2 1210.3,263.0 1209.3,270.6 1208.3,272.3 1207.3,275.3 1206.3,278.4 1205.3,275.2 1204.3,274.0 1203.3,271.4 1202.3,272.0 1201.3,272.1 1200.3,269.4 1199.3,269.4 1198.3,274.4 1197.3,262.7 1196.3,276.7 1195.3,279.4 1194.3,276.0 1193.3,277.7 1192.3,276.5 1191.3,268.5 1190.3,275.2 1189.3,273.7 1188.3,277.1 1187.3,279.4 1186.3,277.7 1185.3,281.5 1184.3,282.0 1183.3,281.3 1182.3,273.9 1181.3,276.4 1180.3,276.4 1179.3,285.2 1178.3,285.4 1177.3,281.0 1176.3,288.3 1175.3,289.8 1174.3,288.8 1173.3,285.8 1172.3,280.8 1171.3,289.7 1170.3,289.1 1169.3,288.4 1168.3,285.3 1167.3,283.3 1166.3,287.5 1165.3,287.2 1164.3,294.2 1163.3,297.3 1162.3,296.4 1161.3,296.6 1160.3,297.9 1159.3,285.1 1158.3,295.0 1157.3,291.8 1156.3,285.1 1155.3,293.9 1154.3,291.1 1153.3,295.5 1152.3,296.2 1151.3,287.2 1150.3,295.1 1149.3,294.8 1148.3,295.5 1147.3,295.9 1146.3,296.7 1145.3,296.7 1144.3,298.0 1143.3,298.0 1142.3,295.6 1141.3,298.9 1140.3,300.3 1139.3,293.2 1138.3,292.1 1137.3,299.8 1136.3,299.7 1135.3,297.7 1134.3,298.8 1133.3,299.4 1132.3,298.8 1131.3,298.9 1130.3,295.4 1129.3,296.4 1128.3,293.8 1127.3,293.3 1126.3,291.6 1125.3,293.8 1124.3,295.5 1123.3,294.2 1122.3,292.7 1121.3,286.3 1120.3,296.0 1119.3,296.0 1118.3,290.7 1117.3,294.0 1116.3,293.0 1115.3,292.1 1114.3,297.3 1113.3,296.9 1112.3,297.0 1111.3,297.3 1110.3,296.5 1109.3,287.6 1108.3,300.0 1107.3,298.9 1106.3,297.0 1105.3,297.1 1104.3,296.6 1103.3,292.2 1102.3,291.8 1101.3,291.5 1100.3,289.8 1099.3,289.1 1098.3,287.7 1097.3,286.8 1096.3,281.6 1095.3,288.1 1094.3,288.3 1093.3,284.0 1092.3,292.6 1091.3,292.4 1090.3,286.9 1089.3,290.3 1088.3,291.0 1087.3,291.5 1086.3,277.2 1085.3,291.4 1084.3,288.8 1083.3,284.3 1082.3,285.9 1081.3,275.6 1080.3,278.6 1079.3,277.0 1078.3,272.2 1077.3,274.3 1076.3,274.6 1075.3,272.1 1074.3,271.9 1073.3,272.3 1072.3,273.0 1071.3,271.8 1070.3,276.2 1069.3,274.3 1068.3,276.2 1067.3,275.3 1066.3,276.0 1065.3,274.9 1064.3,278.9 1063.3,275.4 1062.3,276.2 1061.3,275.4 1060.3,275.4 1059.3,275.5 1058.3,274.3 1057.3,271.9 1056.3,269.6 1055.3,268.8 1054.3,269.5 1053.3,269.3 1052.3,268.4 1051.3,267.8 1050.3,267.3 1049.3,267.8 1048.3,256.0 1047.3,268.5 1046.3,270.9 1045.3,270.9 1044.3,274.9 1043.3,277.8 1042.3,276.9 1041.3,282.3 1040.3,281.1 1039.3,284.9 1038.3,288.0 1037.3,292.5 1036.3,291.9 1035.3,295.2 1034.3,288.3 1033.3,293.2 1032.3,292.0 1031.3,287.6 1030.3,286.8 1029.3,283.4 1028.3,281.4 1027.3,275.0 1026.3,269.1 1025.3,268.9 1024.3,267.0 1023.3,265.1 1022.3,262.5 1021.3,254.2 1020.3,254.0 1019.3,250.8 1018.3,253.8 1017.3,253.0 1016.3,251.4 1015.3,251.5 1014.3,249.2 1013.3,241.9 1012.3,240.6 1011.3,241.4 1010.3,245.3 1009.3,245.7 1008.3,245.1 1007.3,243.8 1006.3,245.7 1005.3,247.4 1004.3,250.4 1003.3,253.6 1002.3,254.7"/>
<polyline class="tr" stroke="#0000ff" stroke-width="1.4" points="1002.3,254.7 1002.3,254.7 1003.3,253.6 1003.3,250.6 1004.3,224.9 1004.3,250.4 1005.3,247.4 1005.3,223.1 1006.3,224.0 1006.3,245.7 1007.3,243.8 1007.3,221.9 1008.3,226.6 1008.3,245.1 1009.3,245.7 1009.3,229.6 1010.3,229.7 1010.3,245.3 1011.3,241.4 1011.3,224.4 1012.3,222.0 1012.3,240.6 1013.3,241.9 1013.3,226.2 1014.3,225.7 1014.3,249.2 1015.3,251.5 1015.3,226.1 1016.3,234.1 1016.3,251.4 1017.3,253.0 1017.3,238.7 1018.3,235.7 1018.3,253.8 1019.3,250.8 1019.3,234.7 1020.3,235.9 1020.3,254.0 1021.3,254.2 1021.3,234.6 1022.3,247.4 1022.3,262.5 1023.3,265.1 1023.3,244.0 1024.3,245.6 1024.3,267.0 1025.3,268.9 1025.3,251.6 1026.3,251.4 1026.3,269.1 1027.3,275.0 1027.3,260.4 1028.3,261.6 1028.3,281.4 1029.3,283.4 1029.3,274.0 1030.3,267.2 1030.3,286.8 1031.3,287.6 1031.3,267.7 1032.3,270.0 1032.3,292.0 1033.3,293.2 1033.3,275.1 1034.3,276.3 1034.3,288.3 1035.3,295.2 1035.3,284.4 1036.3,278.5 1036.3,291.9 1037.3,292.5 1037.3,283.7 1038.3,273.3 1038.3,288.0 1039.3,284.9 1039.3,271.4 1040.3,271.9 1040.3,281.1 1041.3,282.3 1041.3,263.3 1042.3,273.2 1042.3,276.9 1043.3,277.8 1043.3,258.8 1044.3,257.0 1044.3,274.9 1045.3,270.9 1045.3,259.3 1046.3,255.3 1046.3,270.9 1047.3,268.5 1047.3,253.4 1048.3,254.9 1048.3,256.0 1049.3,267.8 1049.3,251.9 1050.3,252.0 1050.3,267.3 1051.3,267.8 1051.3,253.8 1052.3,251.4 1052.3,268.4 1053.3,269.3 1053.3,253.3 1054.3,251.4 1054.3,269.5 1055.3,268.8 1055.3,255.1 1056.3,257.4 1056.3,269.6 1057.3,271.9 1057.3,259.6 1058.3,261.6 1058.3,274.3 1059.3,275.5 1059.3,260.1 1060.3,267.2 1060.3,275.4 1061.3,275.4 1061.3,260.9 1062.3,260.7 1062.3,276.2 1063.3,275.4 1063.3,261.9 1064.3,261.4 1064.3,278.9 1065.3,274.9 1065.3,263.3 1066.3,264.0 1066.3,276.0 1067.3,275.3 1067.3,259.1 1068.3,255.3 1068.3,276.2 1069.3,274.3 1069.3,252.9 1070.3,256.7 1070.3,276.2 1071.3,271.8 1071.3,254.6 1072.3,254.7 1072.3,273.0 1073.3,272.3 1073.3,251.5 1074.3,250.6 1074.3,271.9 1075.3,272.1 1075.3,255.0 1076.3,255.4 1076.3,274.6 1077.3,274.3 1077.3,249.3 1078.3,249.7 1078.3,272.2 1079.3,277.0 1079.3,253.1 1080.3,256.8 1080.3,278.6 1081.3,275.6 1081.3,262.0 1082.3,257.9 1082.3,285.9 1083.3,284.3 1083.3,260.8 1084.3,259.2 1084.3,288.8 1085.3,291.4 1085.3,259.5 1086.3,260.3 1086.3,277.2 1087.3,291.5 1087.3,264.3 1088.3,265.9 1088.3,291.0 1089.3,290.3 1089.3,267.0 1090.3,267.8 1090.3,286.9 1091.3,292.4 1091.3,263.8 1092.3,260.1 1092.3,292.6 1093.3,284.0 1093.3,261.1 1094.3,253.8 1094.3,288.3 1095.3,288.1 1095.3,253.4 1096.3,250.1 1096.3,281.6 1097.3,286.8 1097.3,254.1 1098.3,253.4 1098.3,287.7 1099.3,289.1 1099.3,253.0 1100.3,255.6 1100.3,289.8 1101.3,291.5 1101.3,261.5 1102.3,257.6 1102.3,291.8 1103.3,292.2 1103.3,259.6 1104.3,260.3 1104.3,296.6 1105.3,297.1 1105.3,261.2 1106.3,268.2 1106.3,297.0 1107.3,298.9 1107.3,262.9 1108.3,262.2 1108.3,300.0 1109.3,287.6 1109.3,259.4 1110.3,260.4 1110.3,296.5 1111.3,297.3 1111.3,258.6 1112.3,261.5 1112.3,297.0 1113.3,296.9 1113.3,265.2 1114.3,261.3 1114.3,297.3 1115.3,292.1 1115.3,261.9 1116.3,260.5 1116.3,293.0 1117.3,294.0 1117.3,260.9 1118.3,258.1 1118.3,290.7 1119.3,296.0 1119.3,257.7 1120.3,261.5 1120.3,296.0 1121.3,286.3 1121.3,263.3 1122.3,264.5 1122.3,292.7 1123.3,294.2 1123.3,264.5 1124.3,264.9 1124.3,295.5 1125.3,293.8 1125.3,262.1 1126.3,263.1 1126.3,291.6 1127.3,293.3 1127.3,260.5 1128.3,261.9 1128.3,293.8 1129.3,296.4 1129.3,264.6 1130.3,257.9 1130.3,295.4 1131.3,298.9 1131.3,259.8 1132.3,267.6 1132.3,298.8 1133.3,299.4 1133.3,262.7 1134.3,268.0 1134.3,298.8 1135.3,297.7 1135.3,265.5 1136.3,271.2 1136.3,299.7 1137.3,299.8 1137.3,262.4 1138.3,269.5 1138.3,292.1 1139.3,293.2 1139.3,262.2 1140.3,263.8 1140.3,300.3 1141.3,298.9 1141.3,261.7 1142.3,260.3 1142.3,295.6 1143.3,298.0 1143.3,260.9 1144.3,258.8 1144.3,298.0 1145.3,296.7 1145.3,262.2 1146.3,261.8 1146.3,296.7 1147.3,295.9 1147.3,269.4 1148.3,269.2 1148.3,295.5 1149.3,294.8 1149.3,265.4 1150.3,268.1 1150.3,295.1 1151.3,287.2 1151.3,264.8 1152.3,265.1 1152.3,296.2 1153.3,295.5 1153.3,268.2 1154.3,263.6 1154.3,291.1 1155.3,293.9 1155.3,263.8 1156.3,271.5 1156.3,285.1 1157.3,291.8 1157.3,267.6 1158.3,266.3 1158.3,295.0 1159.3,285.1 1159.3,268.2 1160.3,273.0 1160.3,297.9 1161.3,296.6 1161.3,267.6 1162.3,265.8 1162.3,296.4 1163.3,297.3 1163.3,264.8 1164.3,263.8 1164.3,294.2 1165.3,287.2 1165.3,263.8 1166.3,261.6 1166.3,287.5 1167.3,283.3 1167.3,258.6 1168.3,256.9 1168.3,285.3 1169.3,288.4 1169.3,257.5 1170.3,257.8 1170.3,289.1 1171.3,289.7 1171.3,262.5 1172.3,263.0 1172.3,280.8 1173.3,285.8 1173.3,263.2 1174.3,265.2 1174.3,288.8 1175.3,289.8 1175.3,266.9 1176.3,265.6 1176.3,288.3 1177.3,281.0 1177.3,265.6 1178.3,260.8 1178.3,285.4 1179.3,285.2 1179.3,258.7 1180.3,263.7 1180.3,276.4 1181.3,276.4 1181.3,267.9 1182.3,269.4 1182.3,273.9 1183.3,281.3 1183.3,267.6 1184.3,267.1 1184.3,282.0 1185.3,281.5 1185.3,264.5 1186.3,261.9 1186.3,277.7 1187.3,279.4 1187.3,259.2 1188.3,256.4 1188.3,277.1 1189.3,273.7 1189.3,253.5 1190.3,253.8 1190.3,275.2 1191.3,268.5 1191.3,255.6 1192.3,257.1 1192.3,276.5 1193.3,277.7 1193.3,259.7 1194.3,260.8 1194.3,276.0 1195.3,279.4 1195.3,263.8 1196.3,264.5 1196.3,276.7 1197.3,262.7 1197.3,261.7 1198.3,253.6 1198.3,274.4 1199.3,269.4 1199.3,248.5 1200.3,251.9 1200.3,269.4 1201.3,272.1 1201.3,261.5 1202.3,255.2 1202.3,272.0 1203.3,271.4 1203.3,261.0 1204.3,260.0 1204.3,274.0 1205.3,275.2 1205.3,263.4 1206.3,254.0 1206.3,278.4 1207.3,275.3 1207.3,252.9 1208.3,253.7 1208.3,272.3 1209.3,270.6 1209.3,248.9 1210.3,250.1 1210.3,263.0 1211.3,268.2 1211.3,253.7 1212.3,255.4 1212.3,274.0 1213.3,277.2 1213.3,261.1 1214.3,256.1 1214.3,281.0 1215.3,279.2 1215.3,254.1 1216.3,249.8 1216.3,275.5 1217.3,270.1 1217.3,251.0 1218.3,247.9 1218.3,268.1 1219.3,265.8 1219.3,245.2 1220.3,246.1 1220.3,267.7 1221.3,269.7 1221.3,247.7 1222.3,252.2 1222.3,271.2 1223.3,271.8 1223.3,250.7 1224.3,248.7 1224.3,269.1 1225.3,266.1 1225.3,245.1 1226.3,243.6 1226.3,264.2 1227.3,249.5 1227.3,249.5 1228.3,239.4 1228.3,253.1 1229.3,261.2 1229.3,237.3 1230.3,238.7 1230.3,260.8 1231.3,260.7 1231.3,235.7 1232.3,235.4 1232.3,261.1 1233.3,256.0 1233.3,234.0 1234.3,232.6 1234.3,256.0 1235.3,252.6 1235.3,233.0 1236.3,229.3 1236.3,249.2 1237.3,250.8 1237.3,228.4 1238.3,230.5 1238.3,252.3 1239.3,249.3 1239.3,231.6 1240.3,231.3 1240.3,255.6 1241.3,256.7 1241.3,228.4 1242.3,226.7 1242.3,256.1 1243.3,256.7 1243.3,224.4 1244.3,233.4 1244.3,257.4 1245.3,255.4 1245.3,232.4 1246.3,232.6 1246.3,250.0 1247.3,249.8 1247.3,231.1 1248.3,230.0 1248.3,240.5 1249.3,249.8 1249.3,229.7 1250.3,228.0 1250.3,250.7 1251.3,253.9 1251.3,228.2 1252.3,228.7 1252.3,248.6 1253.3,253.4 1253.3,230.7 1254.3,238.1 1254.3,249.9 1255.3,237.9 1255.3,225.3 1256.3,217.5 1256.3,241.9 1257.3,236.0 1257.3,219.4 1258.3,220.5 1258.3,239.6 1259.3,232.1 1259.3,223.5 1260.3,227.9 1260.3,239.8 1261.3,240.8 1261.3,225.8 1262.3,237.8 1262.3,242.7 1263.3,244.6 1263.3,220.2 1264.3,219.7 1264.3,244.8 1265.3,243.6 1265.3,225.9 1266.3,225.0 1266.3,245.3 1267.3,244.2 1267.3,236.6 1268.3,223.8 1268.3,238.5 1269.3,241.7 1269.3,224.0 1270.3,224.9 1270.3,245.6 1271.3,245.3 1271.3,226.9 1272.3,227.5 1272.3,236.6 1273.3,245.1 1273.3,220.7 1274.3,214.4 1274.3,240.7 1275.3,238.4 1275.3,216.3 1276.3,212.8 1276.3,231.9 1277.3,230.7 1277.3,212.7 1278.3,213.9 1278.3,232.7 1279.3,224.9 1279.3,206.7 1280.3,202.0 1280.3,227.2 1281.3,223.9 1281.3,201.5 1282.3,201.7 1282.3,221.8 1283.3,215.6 1283.3,202.3 1284.3,199.8 1284.3,215.4 1285.3,215.6 1285.3,193.3 1286.3,188.1 1286.3,207.6 1287.3,209.8 1287.3,194.5 1288.3,200.9 1288.3,204.7 1289.3,212.6 1289.3,198.1 1290.3,202.7 1290.3,215.9 1291.3,218.2 1291.3,204.3 1292.3,201.8 1292.3,216.1 1293.3,223.5 1293.3,210.4 1294.3,216.4 1294.3,216.8 1295.3,235.6 1295.3,215.7 1296.3,215.4 1296.3,242.4 1297.3,248.4 1297.3,220.1 1298.3,227.1 1298.3,246.6 1299.3,246.9 1299.3,227.7 1300.3,223.9 1300.3,244.2 1301.3,242.3 1301.3,218.8 1302.3,217.3 1302.3,235.8 1303.3,235.1 1303.3,217.8 1304.3,208.6 1304.3,234.1 1305.3,230.9 1305.3,206.8 1306.3,203.4 1306.3,227.3 1307.3,219.6 1307.3,202.6 1308.3,198.5 1308.3,222.1 1309.3,219.8 1309.3,199.7 1310.3,193.6 1310.3,217.9 1311.3,213.0 1311.3,199.9 1312.3,201.1 1312.3,219.9 1313.3,225.5 1313.3,203.3 1314.3,196.7 1314.3,224.4"/>
<polygon fill="#0000ff" points="1314.4,269.1 1315.2,268.6 1316.0,270.8 1316.8,272.5 1317.6,273.8 1318.4,272.8 1319.2,274.2 1320.0,274.3 1320.8,272.9 1321.6,273.7 1322.4,272.2 1323.2,275.0 1324.0,275.9 1324.8,277.2 1325.6,276.6 1326.4,274.9 1327.2,268.5 1328.0,266.2 1328.8,265.1 1329.6,267.7 1330.4,266.2 1331.2,266.7 1332.0,267.2 1332.8,269.0 1333.6,266.8 1334.4,266.7 1335.2,268.4 1336.0,266.2 1336.8,265.8 1337.6,263.8 1338.4,265.2 1339.2,262.0 1340.0,263.3 1340.8,261.5 1341.6,261.5 1342.4,260.6 1343.2,260.9 1344.0,258.8 1344.8,258.0 1345.6,258.3 1346.4,257.6 1347.2,259.4 1348.0,258.6 1348.8,256.1 1349.6,256.2 1350.4,255.8 1351.2,256.1 1352.0,252.5 1352.8,253.3 1353.6,253.0 1353.6,269.9 1352.8,274.8 1352.0,277.7 1351.2,280.5 1350.4,283.4 1349.6,281.5 1348.8,283.2 1348.0,282.0 1347.2,282.6 1346.4,284.4 1345.6,283.9 1344.8,285.6 1344.0,286.1 1343.2,283.7 1342.4,285.6 1341.6,284.4 1340.8,286.5 1340.0,286.4 1339.2,285.8 1338.4,283.8 1337.6,284.1 1336.8,284.3 1336.0,285.5 1335.2,283.6 1334.4,284.6 1333.6,283.3 1332.8,283.6 1332.0,284.2 1331.2,286.3 1330.4,284.7 1329.6,284.9 1328.8,286.3 1328.0,285.5 1327.2,286.5 1326.4,288.4 1325.6,286.3 1324.8,288.8 1324.0,288.0 1323.2,291.3 1322.4,290.6 1321.6,292.4 1320.8,291.2 1320.0,289.7 1319.2,289.0 1318.4,288.6 1317.6,286.9 1316.8,286.5 1316.0,283.9 1315.2,283.1 1314.4,285.6"/>
<path class="tr" stroke="#0000ff" stroke-width="1.15" d="M1314.6 266.3V293.6M1316.1 264.5V291.5M1317.9 265.9V295.7M1320.0 267.5V295.3M1321.8 269.3V298.7M1323.7 271.0V283.8M1325.3 274.4V290.9M1326.9 265.8V293.3M1329.0 258.8V291.2M1330.5 264.7V291.7M1332.6 266.0V286.5M1334.0 268.1V288.5M1336.1 262.3V292.5M1338.0 259.0V291.1M1339.5 258.9V288.5M1341.6 254.0V291.8M1343.0 252.5V291.7M1344.7 255.9V291.9M1346.5 250.3V288.2M1348.4 251.1V288.9M1350.6 257.2V289.3M1352.3 252.5V282.2M1354.2 247.0V275.7"/>
<polygon fill="#0000ff" points="1353.5,245.3 1354.5,243.5 1355.5,242.5 1356.5,244.9 1357.5,238.0 1358.5,237.8 1359.5,238.5 1360.5,238.4 1361.5,237.2 1362.5,237.4 1363.5,233.6 1364.5,228.8 1365.5,234.8 1366.5,239.5 1367.5,236.7 1368.5,238.6 1369.5,234.1 1370.5,233.9 1371.5,236.1 1372.5,237.4 1373.5,238.1 1374.5,242.2 1375.5,239.6 1376.5,237.7 1377.5,251.4 1378.5,243.8 1379.5,236.6 1380.5,234.4 1381.5,235.8 1382.5,235.0 1383.5,235.3 1384.5,236.6 1385.5,240.3 1386.5,241.4 1387.5,235.7 1388.5,234.5 1389.5,243.4 1390.5,237.0 1391.5,232.7 1392.5,230.3 1393.5,230.6 1394.5,230.1 1395.5,240.1 1396.5,229.1 1397.5,228.3 1398.5,228.3 1399.5,229.9 1400.5,227.9 1401.5,227.8 1402.5,227.1 1403.5,227.2 1404.5,228.5 1405.5,226.8 1406.5,225.6 1407.5,222.2 1408.5,219.3 1409.5,217.1 1410.5,215.9 1411.5,218.1 1412.5,223.1 1413.5,233.0 1414.5,222.7 1415.5,218.3 1416.5,224.2 1417.5,228.1 1418.5,229.2 1419.5,220.8 1420.5,217.0 1421.5,218.9 1422.5,223.4 1423.5,229.9 1424.5,224.3 1425.5,225.5 1426.5,222.6 1427.5,219.8 1428.5,221.4 1429.5,214.7 1430.5,216.4 1431.5,222.9 1432.5,226.1 1433.5,218.0 1434.5,217.1 1435.5,214.8 1436.5,214.1 1437.5,213.5 1438.5,213.4 1439.5,218.0 1440.5,214.3 1441.5,212.1 1442.5,210.7 1443.5,212.8 1444.5,209.3 1445.5,217.7 1446.5,210.2 1447.5,212.9 1448.5,214.0 1449.5,210.2 1450.5,207.3 1451.5,208.2 1452.5,210.9 1453.5,206.2 1454.5,207.9 1455.5,205.3 1456.5,211.9 1457.5,197.6 1458.5,198.7 1459.5,200.9 1460.5,206.4 1461.5,201.3 1462.5,198.8 1463.5,198.2 1464.5,201.9 1465.5,207.2 1466.5,206.5 1467.5,197.5 1468.5,198.2 1469.5,191.2 1470.5,190.3 1471.5,196.3 1472.5,201.2 1473.5,202.7 1474.5,192.6 1475.5,196.3 1476.5,191.4 1477.5,189.9 1477.5,230.7 1476.5,226.5 1475.5,226.1 1474.5,234.1 1473.5,237.2 1472.5,235.8 1471.5,237.2 1470.5,238.8 1469.5,239.5 1468.5,237.4 1467.5,234.5 1466.5,239.2 1465.5,240.1 1464.5,239.1 1463.5,243.2 1462.5,243.3 1461.5,240.7 1460.5,243.6 1459.5,242.7 1458.5,244.6 1457.5,238.6 1456.5,239.0 1455.5,243.4 1454.5,244.6 1453.5,244.9 1452.5,245.1 1451.5,244.4 1450.5,242.8 1449.5,243.1 1448.5,241.0 1447.5,243.8 1446.5,235.0 1445.5,247.2 1444.5,247.3 1443.5,244.7 1442.5,244.0 1441.5,249.4 1440.5,245.6 1439.5,228.7 1438.5,245.2 1437.5,251.9 1436.5,250.3 1435.5,248.6 1434.5,248.7 1433.5,253.9 1432.5,251.6 1431.5,252.2 1430.5,248.8 1429.5,252.1 1428.5,240.1 1427.5,253.1 1426.5,254.1 1425.5,246.5 1424.5,251.2 1423.5,253.9 1422.5,254.6 1421.5,254.6 1420.5,252.8 1419.5,253.1 1418.5,251.2 1417.5,255.2 1416.5,254.8 1415.5,254.6 1414.5,254.9 1413.5,256.1 1412.5,259.0 1411.5,259.9 1410.5,262.4 1409.5,260.0 1408.5,266.3 1407.5,255.0 1406.5,257.9 1405.5,264.2 1404.5,260.3 1403.5,265.1 1402.5,265.4 1401.5,265.9 1400.5,265.3 1399.5,266.2 1398.5,266.3 1397.5,262.5 1396.5,266.7 1395.5,268.4 1394.5,269.7 1393.5,271.0 1392.5,270.0 1391.5,271.8 1390.5,273.0 1389.5,273.1 1388.5,272.1 1387.5,271.2 1386.5,271.9 1385.5,271.4 1384.5,270.7 1383.5,269.9 1382.5,267.6 1381.5,267.9 1380.5,266.0 1379.5,265.8 1378.5,266.7 1377.5,267.4 1376.5,263.3 1375.5,266.6 1374.5,269.6 1373.5,269.9 1372.5,270.1 1371.5,272.0 1370.5,273.1 1369.5,269.0 1368.5,273.4 1367.5,270.7 1366.5,272.4 1365.5,259.5 1364.5,252.4 1363.5,269.8 1362.5,271.9 1361.5,272.0 1360.5,264.2 1359.5,273.2 1358.5,268.5 1357.5,271.8 1356.5,273.1 1355.5,271.5 1354.5,274.0 1353.5,274.3"/>
<polyline class="tr" stroke="#0000ff" stroke-width="1.4" points="1353.5,245.3 1353.5,274.3 1354.5,274.0 1354.5,243.5 1355.5,242.5 1355.5,271.5 1356.5,273.1 1356.5,244.9 1357.5,238.0 1357.5,271.8 1358.5,268.5 1358.5,237.8 1359.5,238.5 1359.5,273.2 1360.5,264.2 1360.5,238.4 1361.5,237.2 1361.5,272.0 1362.5,271.9 1362.5,237.4 1363.5,233.6 1363.5,269.8 1364.5,252.4 1364.5,228.8 1365.5,234.8 1365.5,259.5 1366.5,272.4 1366.5,239.5 1367.5,236.7 1367.5,270.7 1368.5,273.4 1368.5,238.6 1369.5,234.1 1369.5,269.0 1370.5,273.1 1370.5,233.9 1371.5,236.1 1371.5,272.0 1372.5,270.1 1372.5,237.4 1373.5,238.1 1373.5,269.9 1374.5,269.6 1374.5,242.2 1375.5,239.6 1375.5,266.6 1376.5,263.3 1376.5,237.7 1377.5,251.4 1377.5,267.4 1378.5,266.7 1378.5,243.8 1379.5,236.6 1379.5,265.8 1380.5,266.0 1380.5,234.4 1381.5,235.8 1381.5,267.9 1382.5,267.6 1382.5,235.0 1383.5,235.3 1383.5,269.9 1384.5,270.7 1384.5,236.6 1385.5,240.3 1385.5,271.4 1386.5,271.9 1386.5,241.4 1387.5,235.7 1387.5,271.2 1388.5,272.1 1388.5,234.5 1389.5,243.4 1389.5,273.1 1390.5,273.0 1390.5,237.0 1391.5,232.7 1391.5,271.8 1392.5,270.0 1392.5,230.3 1393.5,230.6 1393.5,271.0 1394.5,269.7 1394.5,230.1 1395.5,240.1 1395.5,268.4 1396.5,266.7 1396.5,229.1 1397.5,228.3 1397.5,262.5 1398.5,266.3 1398.5,228.3 1399.5,229.9 1399.5,266.2 1400.5,265.3 1400.5,227.9 1401.5,227.8 1401.5,265.9 1402.5,265.4 1402.5,227.1 1403.5,227.2 1403.5,265.1 1404.5,260.3 1404.5,228.5 1405.5,226.8 1405.5,264.2 1406.5,257.9 1406.5,225.6 1407.5,222.2 1407.5,255.0 1408.5,266.3 1408.5,219.3 1409.5,217.1 1409.5,260.0 1410.5,262.4 1410.5,215.9 1411.5,218.1 1411.5,259.9 1412.5,259.0 1412.5,223.1 1413.5,233.0 1413.5,256.1 1414.5,254.9 1414.5,222.7 1415.5,218.3 1415.5,254.6 1416.5,254.8 1416.5,224.2 1417.5,228.1 1417.5,255.2 1418.5,251.2 1418.5,229.2 1419.5,220.8 1419.5,253.1 1420.5,252.8 1420.5,217.0 1421.5,218.9 1421.5,254.6 1422.5,254.6 1422.5,223.4 1423.5,229.9 1423.5,253.9 1424.5,251.2 1424.5,224.3 1425.5,225.5 1425.5,246.5 1426.5,254.1 1426.5,222.6 1427.5,219.8 1427.5,253.1 1428.5,240.1 1428.5,221.4 1429.5,214.7 1429.5,252.1 1430.5,248.8 1430.5,216.4 1431.5,222.9 1431.5,252.2 1432.5,251.6 1432.5,226.1 1433.5,218.0 1433.5,253.9 1434.5,248.7 1434.5,217.1 1435.5,214.8 1435.5,248.6 1436.5,250.3 1436.5,214.1 1437.5,213.5 1437.5,251.9 1438.5,245.2 1438.5,213.4 1439.5,218.0 1439.5,228.7 1440.5,245.6 1440.5,214.3 1441.5,212.1 1441.5,249.4 1442.5,244.0 1442.5,210.7 1443.5,212.8 1443.5,244.7 1444.5,247.3 1444.5,209.3 1445.5,217.7 1445.5,247.2 1446.5,235.0 1446.5,210.2 1447.5,212.9 1447.5,243.8 1448.5,241.0 1448.5,214.0 1449.5,210.2 1449.5,243.1 1450.5,242.8 1450.5,207.3 1451.5,208.2 1451.5,244.4 1452.5,245.1 1452.5,210.9 1453.5,206.2 1453.5,244.9 1454.5,244.6 1454.5,207.9 1455.5,205.3 1455.5,243.4 1456.5,239.0 1456.5,211.9 1457.5,197.6 1457.5,238.6 1458.5,244.6 1458.5,198.7 1459.5,200.9 1459.5,242.7 1460.5,243.6 1460.5,206.4 1461.5,201.3 1461.5,240.7 1462.5,243.3 1462.5,198.8 1463.5,198.2 1463.5,243.2 1464.5,239.1 1464.5,201.9 1465.5,207.2 1465.5,240.1 1466.5,239.2 1466.5,206.5 1467.5,197.5 1467.5,234.5 1468.5,237.4 1468.5,198.2 1469.5,191.2 1469.5,239.5 1470.5,238.8 1470.5,190.3 1471.5,196.3 1471.5,237.2 1472.5,235.8 1472.5,201.2 1473.5,202.7 1473.5,237.2 1474.5,234.1 1474.5,192.6 1475.5,196.3 1475.5,226.1 1476.5,226.5 1476.5,191.4 1477.5,189.9 1477.5,230.7"/>
<line x1="1470.5" y1="185" x2="1470.5" y2="210" stroke="#0000ff" stroke-width="1.7"/>
<line x1="1314.4" y1="200" x2="1314.4" y2="339.9" stroke="#0000ff" stroke-width="1.6"/>
<polygon fill="#800080" points="1002.3,339.9 1002.8,279.7 1003.3,280.5 1003.8,280.0 1004.3,280.1 1004.8,280.1 1005.3,261.9 1005.8,258.5 1006.3,258.5 1006.8,258.5 1007.3,261.5 1007.8,275.9 1008.3,275.8 1008.8,276.6 1009.3,276.0 1009.8,276.1 1010.3,275.7 1010.8,275.9 1011.3,263.4 1011.8,260.5 1012.3,261.7 1012.8,260.4 1013.3,264.6 1013.8,285.6 1014.3,285.1 1014.8,285.1 1015.3,285.5 1015.8,285.5 1016.3,285.4 1016.8,285.1 1017.3,285.6 1017.8,280.9 1018.3,275.3 1018.8,275.0 1019.3,275.0 1019.8,275.3 1020.3,306.4 1020.8,308.9 1021.3,306.5 1021.8,306.5 1022.3,306.9 1022.8,306.4 1023.3,306.7 1023.8,304.0 1024.3,298.0 1024.8,297.8 1025.3,298.0 1025.8,297.8 1026.3,305.8 1026.8,305.1 1027.3,305.1 1027.8,314.3 1027.8,339.3 1027.3,338.0 1026.8,337.1 1026.3,336.0 1025.8,333.4 1025.3,332.3 1024.8,331.0 1024.3,329.6 1023.8,328.3 1023.3,324.4 1022.8,325.1 1022.3,323.3 1021.8,321.7 1021.3,319.8 1020.8,318.5 1020.3,316.6 1019.8,315.4 1019.3,314.5 1018.8,312.9 1018.3,312.9 1017.8,312.3 1017.3,311.9 1016.8,311.0 1016.3,310.9 1015.8,310.5 1015.3,309.7 1014.8,308.1 1014.3,308.3 1013.8,307.3 1013.3,305.6 1012.8,305.9 1012.3,305.2 1011.8,304.2 1011.3,304.2 1010.8,304.6 1010.3,304.9 1009.8,305.0 1009.3,304.0 1008.8,305.2 1008.3,305.2 1007.8,305.3 1007.3,305.9 1006.8,306.6 1006.3,306.9 1005.8,308.2 1005.3,309.7 1004.8,311.0 1004.3,311.8 1003.8,312.8 1003.3,314.2 1002.8,330.1 1002.3,339.9"/>
<polyline class="tr" stroke="#800080" stroke-width="1.0" points="1002.3,339.9 1002.3,339.9 1002.8,330.1 1002.8,279.7 1003.3,280.5 1003.3,314.2 1003.8,312.8 1003.8,280.0 1004.3,280.1 1004.3,311.8 1004.8,311.0 1004.8,280.1 1005.3,261.9 1005.3,309.7 1005.8,308.2 1005.8,258.5 1006.3,258.5 1006.3,306.9 1006.8,306.6 1006.8,258.5 1007.3,261.5 1007.3,305.9 1007.8,305.3 1007.8,275.9 1008.3,275.8 1008.3,305.2 1008.8,305.2 1008.8,276.6 1009.3,276.0 1009.3,304.0 1009.8,305.0 1009.8,276.1 1010.3,275.7 1010.3,304.9 1010.8,304.6 1010.8,275.9 1011.3,263.4 1011.3,304.2 1011.8,304.2 1011.8,260.5 1012.3,261.7 1012.3,305.2 1012.8,305.9 1012.8,260.4 1013.3,264.6 1013.3,305.6 1013.8,307.3 1013.8,285.6 1014.3,285.1 1014.3,308.3 1014.8,308.1 1014.8,285.1 1015.3,285.5 1015.3,309.7 1015.8,310.5 1015.8,285.5 1016.3,285.4 1016.3,310.9 1016.8,311.0 1016.8,285.1 1017.3,285.6 1017.3,311.9 1017.8,312.3 1017.8,280.9 1018.3,275.3 1018.3,312.9 1018.8,312.9 1018.8,275.0 1019.3,275.0 1019.3,314.5 1019.8,315.4 1019.8,275.3 1020.3,306.4 1020.3,316.6 1020.8,318.5 1020.8,308.9 1021.3,306.5 1021.3,319.8 1021.8,321.7 1021.8,306.5 1022.3,306.9 1022.3,323.3 1022.8,325.1 1022.8,306.4 1023.3,306.7 1023.3,324.4 1023.8,328.3 1023.8,304.0 1024.3,298.0 1024.3,329.6 1024.8,331.0 1024.8,297.8 1025.3,298.0 1025.3,332.3 1025.8,333.4 1025.8,297.8 1026.3,305.8 1026.3,336.0 1026.8,337.1 1026.8,305.1 1027.3,305.1 1027.3,338.0 1027.8,339.3 1027.8,314.3"/>
<polygon fill="#800080" points="1027.9,339.9 1028.4,338.2 1028.9,335.4 1029.4,334.2 1029.9,333.8 1030.4,332.2 1030.9,328.5 1031.4,326.0 1031.9,324.9 1032.4,330.3 1032.9,334.9 1033.4,337.6 1033.9,338.5 1034.4,339.9 1034.9,338.2 1035.4,337.8 1035.9,335.6 1036.4,333.5 1036.9,330.0 1037.4,327.0 1037.9,328.0 1038.4,332.6 1038.9,337.2 1039.4,338.9 1039.9,338.1 1040.4,336.3 1040.9,334.2 1041.4,326.0 1041.4,339.6 1040.9,339.4 1040.4,339.6 1039.9,339.8 1039.4,339.5 1038.9,339.7 1038.4,339.6 1037.9,339.8 1037.4,338.5 1036.9,338.2 1036.4,338.9 1035.9,338.7 1035.4,337.8 1034.9,339.7 1034.4,339.9 1033.9,339.7 1033.4,339.3 1032.9,339.8 1032.4,338.9 1031.9,339.9 1031.4,339.6 1030.9,339.8 1030.4,339.7 1029.9,339.7 1029.4,339.5 1028.9,339.7 1028.4,339.1 1027.9,339.9"/>
<polyline class="tr" stroke="#800080" stroke-width="1.0" points="1027.9,339.9 1027.9,339.9 1028.4,339.1 1028.4,338.2 1028.9,335.4 1028.9,339.7 1029.4,339.5 1029.4,334.2 1029.9,333.8 1029.9,339.7 1030.4,339.7 1030.4,332.2 1030.9,328.5 1030.9,339.8 1031.4,339.6 1031.4,326.0 1031.9,324.9 1031.9,339.9 1032.4,338.9 1032.4,330.3 1032.9,334.9 1032.9,339.8 1033.4,339.3 1033.4,337.6 1033.9,338.5 1033.9,339.7 1034.4,339.9 1034.4,339.9 1034.9,338.2 1034.9,339.7 1035.4,337.8 1035.4,337.8 1035.9,335.6 1035.9,338.7 1036.4,338.9 1036.4,333.5 1036.9,330.0 1036.9,338.2 1037.4,338.5 1037.4,327.0 1037.9,328.0 1037.9,339.8 1038.4,339.6 1038.4,332.6 1038.9,337.2 1038.9,339.7 1039.4,339.5 1039.4,338.9 1039.9,338.1 1039.9,339.8 1040.4,339.6 1040.4,336.3 1040.9,334.2 1040.9,339.4 1041.4,339.6 1041.4,326.0"/>
<polygon fill="#800080" points="1041.7,321.8 1042.2,311.9 1042.7,310.7 1043.2,311.6 1043.7,310.6 1044.2,315.5 1044.7,316.5 1045.2,316.3 1045.7,316.0 1046.2,315.8 1046.7,316.4 1047.2,315.8 1047.7,316.4 1048.2,298.5 1048.7,296.9 1049.2,296.4 1049.7,296.3 1050.2,315.6 1050.7,318.7 1051.2,317.1 1051.7,317.1 1052.2,317.7 1052.7,317.2 1053.2,315.6 1053.7,296.8 1054.2,296.7 1054.7,295.9 1055.2,298.8 1055.7,311.8 1056.2,312.9 1056.7,311.9 1057.2,312.8 1057.7,311.8 1058.2,300.3 1058.7,300.2 1059.2,299.3 1059.7,299.1 1060.2,317.0 1060.7,318.3 1061.2,319.0 1061.7,318.9 1062.2,318.4 1062.7,310.2 1063.2,301.2 1063.7,302.0 1064.2,301.1 1064.7,310.1 1065.2,318.4 1065.7,318.9 1066.2,318.7 1066.7,318.5 1067.2,318.6 1067.7,319.5 1068.2,301.5 1068.7,298.6 1069.2,298.1 1069.7,297.7 1070.2,311.3 1070.7,312.4 1071.2,313.8 1071.7,311.9 1072.2,312.2 1072.7,304.9 1073.2,296.6 1073.7,296.4 1074.2,297.0 1074.7,307.1 1075.2,313.3 1075.7,313.0 1076.2,313.0 1076.7,313.3 1077.2,311.2 1077.7,289.4 1078.2,289.1 1078.7,289.3 1079.2,291.4 1079.7,307.4 1080.2,306.5 1080.7,306.7 1081.2,305.2 1081.7,291.9 1082.2,292.2 1082.7,291.9 1083.2,293.9 1083.7,307.9 1084.2,307.9 1084.7,307.8 1085.2,308.2 1085.7,307.9 1086.2,298.1 1086.7,297.2 1087.2,297.0 1087.7,296.5 1088.2,308.5 1088.7,309.3 1089.2,308.3 1089.7,299.5 1090.2,299.1 1090.7,299.1 1091.2,299.6 1091.7,305.2 1092.2,305.1 1092.7,305.5 1093.2,304.4 1093.7,295.4 1094.2,295.8 1094.7,295.1 1095.2,295.8 1095.7,294.4 1096.2,288.5 1096.7,288.5 1097.2,287.7 1097.7,287.7 1098.2,291.9 1098.7,289.2 1099.2,287.8 1099.7,288.0 1100.2,288.8 1100.7,290.6 1101.2,292.2 1101.7,293.8 1102.2,293.9 1102.7,293.9 1103.2,293.9 1103.7,296.4 1104.2,296.6 1104.7,298.1 1105.2,298.3 1105.7,298.0 1106.2,297.8 1106.7,298.4 1107.2,297.6 1107.7,298.8 1108.2,297.9 1108.7,297.4 1109.2,297.6 1109.7,297.6 1110.2,298.8 1110.7,297.8 1111.2,297.3 1111.7,297.3 1112.2,297.1 1112.7,297.2 1113.2,297.2 1113.7,297.4 1114.2,297.7 1114.7,296.7 1115.2,297.1 1115.7,296.6 1116.2,296.3 1116.7,296.5 1117.2,296.8 1117.7,296.6 1118.2,296.7 1118.7,295.9 1119.2,296.0 1119.7,296.2 1120.2,296.1 1120.7,296.6 1121.2,296.7 1121.7,296.3 1122.2,296.0 1122.7,296.1 1123.2,296.8 1123.7,296.9 1124.2,296.7 1124.7,296.2 1125.2,296.4 1125.7,296.3 1126.2,297.3 1126.7,296.4 1127.2,296.8 1127.7,296.9 1128.2,297.1 1128.7,297.9 1129.2,298.5 1129.7,297.4 1130.2,298.0 1130.7,297.9 1131.2,298.2 1131.7,298.3 1132.2,298.9 1132.7,298.9 1133.2,299.3 1133.7,299.1 1134.2,299.8 1134.7,300.2 1135.2,299.5 1135.7,299.6 1136.2,299.8 1136.7,300.0 1137.2,300.3 1137.7,300.9 1138.2,300.3 1138.7,300.4 1139.2,300.6 1139.7,301.4 1140.2,300.8 1140.7,301.5 1141.2,302.2 1141.7,301.2 1142.2,302.9 1142.7,302.1 1143.2,303.0 1143.7,303.0 1144.2,303.3 1144.7,303.8 1145.2,304.3 1145.7,304.8 1146.2,305.4 1146.7,305.7 1147.2,307.4 1147.7,307.0 1148.2,308.2 1148.7,308.7 1149.2,309.2 1149.7,310.3 1150.2,310.9 1150.7,311.6 1151.2,312.1 1151.7,312.9 1152.2,313.2 1152.7,314.0 1153.2,314.6 1153.7,315.4 1154.2,315.4 1154.7,316.3 1155.2,315.7 1155.7,315.3 1156.2,315.7 1156.7,315.6 1157.2,316.1 1157.7,316.8 1158.2,317.4 1158.7,318.1 1159.2,319.4 1159.7,319.9 1160.2,319.9 1160.7,320.9 1161.2,321.0 1161.7,321.2 1162.2,320.1 1162.7,319.9 1163.2,320.4 1163.7,319.3 1164.2,318.5 1164.7,319.2 1165.2,317.9 1165.7,317.0 1166.2,316.6 1166.7,316.6 1167.2,315.7 1167.7,315.3 1168.2,314.6 1168.7,314.7 1169.2,315.3 1169.7,315.7 1170.2,316.4 1170.7,316.8 1171.2,317.2 1171.7,317.7 1172.2,318.4 1172.7,319.7 1173.2,319.3 1173.7,320.3 1174.2,320.6 1174.7,321.2 1175.2,321.8 1175.7,322.4 1176.2,323.3 1176.7,323.7 1177.2,323.0 1177.7,323.1 1178.2,323.3 1178.7,322.8 1179.2,322.6 1179.7,323.4 1180.2,324.7 1180.7,325.0 1181.2,325.1 1181.7,326.5 1182.2,327.2 1182.7,328.7 1183.2,328.7 1183.7,329.3 1184.2,330.4 1184.7,331.0 1185.2,331.4 1185.7,332.2 1186.2,332.6 1186.7,333.6 1187.2,334.4 1187.7,335.7 1187.7,339.4 1187.2,339.3 1186.7,339.7 1186.2,338.3 1185.7,339.9 1185.2,339.4 1184.7,339.9 1184.2,339.9 1183.7,339.6 1183.2,339.5 1182.7,339.8 1182.2,339.9 1181.7,339.1 1181.2,336.9 1180.7,339.5 1180.2,339.8 1179.7,337.6 1179.2,338.0 1178.7,338.8 1178.2,339.7 1177.7,339.6 1177.2,339.9 1176.7,339.6 1176.2,339.9 1175.7,339.8 1175.2,339.5 1174.7,339.6 1174.2,339.6 1173.7,339.3 1173.2,339.3 1172.7,339.9 1172.2,339.5 1171.7,338.5 1171.2,339.3 1170.7,339.0 1170.2,339.8 1169.7,339.1 1169.2,339.6 1168.7,339.9 1168.2,339.8 1167.7,339.9 1167.2,339.9 1166.7,339.9 1166.2,339.8 1165.7,338.6 1165.2,339.3 1164.7,339.8 1164.2,339.6 1163.7,339.7 1163.2,339.8 1162.7,338.5 1162.2,339.6 1161.7,339.8 1161.2,339.6 1160.7,338.9 1160.2,339.9 1159.7,339.8 1159.2,339.7 1158.7,339.4 1158.2,338.2 1157.7,339.6 1157.2,338.2 1156.7,339.6 1156.2,339.7 1155.7,339.7 1155.2,339.7 1154.7,339.9 1154.2,339.9 1153.7,339.9 1153.2,339.5 1152.7,339.2 1152.2,339.4 1151.7,339.7 1151.2,339.7 1150.7,339.9 1150.2,339.4 1149.7,339.8 1149.2,339.3 1148.7,339.9 1148.2,339.0 1147.7,339.4 1147.2,338.0 1146.7,339.7 1146.2,338.9 1145.7,339.8 1145.2,339.6 1144.7,339.4 1144.2,338.8 1143.7,339.8 1143.2,339.0 1142.7,339.6 1142.2,339.6 1141.7,339.9 1141.2,339.7 1140.7,339.7 1140.2,339.9 1139.7,337.2 1139.2,339.3 1138.7,339.7 1138.2,339.8 1137.7,339.3 1137.2,339.7 1136.7,339.8 1136.2,339.6 1135.7,339.8 1135.2,339.8 1134.7,338.9 1134.2,339.9 1133.7,339.5 1133.2,339.3 1132.7,339.9 1132.2,339.7 1131.7,339.5 1131.2,339.3 1130.7,339.2 1130.2,339.5 1129.7,339.2 1129.2,339.8 1128.7,339.9 1128.2,339.6 1127.7,339.5 1127.2,339.8 1126.7,339.8 1126.2,339.7 1125.7,339.8 1125.2,339.6 1124.7,339.9 1124.2,338.4 1123.7,339.6 1123.2,339.4 1122.7,338.9 1122.2,339.2 1121.7,339.4 1121.2,339.5 1120.7,339.8 1120.2,339.9 1119.7,339.8 1119.2,339.7 1118.7,339.4 1118.2,339.9 1117.7,339.7 1117.2,339.8 1116.7,339.6 1116.2,338.7 1115.7,339.6 1115.2,339.4 1114.7,339.7 1114.2,339.7 1113.7,339.2 1113.2,339.9 1112.7,339.6 1112.2,338.4 1111.7,339.8 1111.2,339.3 1110.7,339.0 1110.2,339.8 1109.7,339.8 1109.2,339.2 1108.7,339.3 1108.2,338.9 1107.7,339.5 1107.2,339.9 1106.7,339.3 1106.2,338.6 1105.7,339.1 1105.2,337.6 1104.7,338.8 1104.2,339.8 1103.7,339.8 1103.2,339.4 1102.7,339.9 1102.2,339.9 1101.7,338.8 1101.2,338.9 1100.7,339.4 1100.2,339.6 1099.7,339.9 1099.2,339.1 1098.7,339.0 1098.2,339.3 1097.7,338.6 1097.2,339.5 1096.7,339.4 1096.2,338.2 1095.7,339.7 1095.2,339.5 1094.7,339.6 1094.2,339.5 1093.7,339.5 1093.2,339.4 1092.7,339.9 1092.2,339.6 1091.7,339.5 1091.2,339.6 1090.7,339.5 1090.2,339.4 1089.7,339.3 1089.2,339.8 1088.7,339.6 1088.2,339.4 1087.7,338.3 1087.2,339.9 1086.7,339.7 1086.2,339.6 1085.7,339.8 1085.2,339.6 1084.7,339.4 1084.2,339.7 1083.7,338.4 1083.2,339.7 1082.7,339.1 1082.2,338.1 1081.7,337.5 1081.2,335.1 1080.7,335.5 1080.2,334.2 1079.7,333.4 1079.2,332.5 1078.7,331.4 1078.2,330.6 1077.7,328.7 1077.2,329.9 1076.7,330.0 1076.2,329.9 1075.7,329.9 1075.2,329.6 1074.7,329.8 1074.2,329.7 1073.7,330.0 1073.2,329.6 1072.7,330.2 1072.2,330.0 1071.7,330.9 1071.2,331.3 1070.7,331.3 1070.2,331.8 1069.7,331.5 1069.2,332.4 1068.7,332.9 1068.2,333.2 1067.7,333.6 1067.2,333.7 1066.7,333.9 1066.2,334.2 1065.7,334.1 1065.2,334.5 1064.7,334.8 1064.2,334.7 1063.7,334.2 1063.2,335.5 1062.7,335.1 1062.2,335.4 1061.7,334.7 1061.2,334.9 1060.7,334.7 1060.2,334.5 1059.7,334.5 1059.2,333.9 1058.7,333.7 1058.2,333.4 1057.7,332.3 1057.2,332.2 1056.7,331.0 1056.2,330.5 1055.7,330.8 1055.2,330.4 1054.7,329.8 1054.2,329.2 1053.7,328.1 1053.2,327.9 1052.7,327.8 1052.2,327.2 1051.7,326.2 1051.2,326.3 1050.7,325.9 1050.2,326.8 1049.7,326.3 1049.2,328.2 1048.7,328.9 1048.2,329.1 1047.7,329.7 1047.2,330.7 1046.7,331.2 1046.2,333.0 1045.7,334.4 1045.2,335.8 1044.7,336.9 1044.2,338.0 1043.7,339.8 1043.2,339.6 1042.7,339.8 1042.2,339.2 1041.7,339.2"/>
<polyline class="tr" stroke="#800080" stroke-width="1.0" points="1041.7,321.8 1041.7,339.2 1042.2,339.2 1042.2,311.9 1042.7,310.7 1042.7,339.8 1043.2,339.6 1043.2,311.6 1043.7,310.6 1043.7,339.8 1044.2,338.0 1044.2,315.5 1044.7,316.5 1044.7,336.9 1045.2,335.8 1045.2,316.3 1045.7,316.0 1045.7,334.4 1046.2,333.0 1046.2,315.8 1046.7,316.4 1046.7,331.2 1047.2,330.7 1047.2,315.8 1047.7,316.4 1047.7,329.7 1048.2,329.1 1048.2,298.5 1048.7,296.9 1048.7,328.9 1049.2,328.2 1049.2,296.4 1049.7,296.3 1049.7,326.3 1050.2,326.8 1050.2,315.6 1050.7,318.7 1050.7,325.9 1051.2,326.3 1051.2,317.1 1051.7,317.1 1051.7,326.2 1052.2,327.2 1052.2,317.7 1052.7,317.2 1052.7,327.8 1053.2,327.9 1053.2,315.6 1053.7,296.8 1053.7,328.1 1054.2,329.2 1054.2,296.7 1054.7,295.9 1054.7,329.8 1055.2,330.4 1055.2,298.8 1055.7,311.8 1055.7,330.8 1056.2,330.5 1056.2,312.9 1056.7,311.9 1056.7,331.0 1057.2,332.2 1057.2,312.8 1057.7,311.8 1057.7,332.3 1058.2,333.4 1058.2,300.3 1058.7,300.2 1058.7,333.7 1059.2,333.9 1059.2,299.3 1059.7,299.1 1059.7,334.5 1060.2,334.5 1060.2,317.0 1060.7,318.3 1060.7,334.7 1061.2,334.9 1061.2,319.0 1061.7,318.9 1061.7,334.7 1062.2,335.4 1062.2,318.4 1062.7,310.2 1062.7,335.1 1063.2,335.5 1063.2,301.2 1063.7,302.0 1063.7,334.2 1064.2,334.7 1064.2,301.1 1064.7,310.1 1064.7,334.8 1065.2,334.5 1065.2,318.4 1065.7,318.9 1065.7,334.1 1066.2,334.2 1066.2,318.7 1066.7,318.5 1066.7,333.9 1067.2,333.7 1067.2,318.6 1067.7,319.5 1067.7,333.6 1068.2,333.2 1068.2,301.5 1068.7,298.6 1068.7,332.9 1069.2,332.4 1069.2,298.1 1069.7,297.7 1069.7,331.5 1070.2,331.8 1070.2,311.3 1070.7,312.4 1070.7,331.3 1071.2,331.3 1071.2,313.8 1071.7,311.9 1071.7,330.9 1072.2,330.0 1072.2,312.2 1072.7,304.9 1072.7,330.2 1073.2,329.6 1073.2,296.6 1073.7,296.4 1073.7,330.0 1074.2,329.7 1074.2,297.0 1074.7,307.1 1074.7,329.8 1075.2,329.6 1075.2,313.3 1075.7,313.0 1075.7,329.9 1076.2,329.9 1076.2,313.0 1076.7,313.3 1076.7,330.0 1077.2,329.9 1077.2,311.2 1077.7,289.4 1077.7,328.7 1078.2,330.6 1078.2,289.1 1078.7,289.3 1078.7,331.4 1079.2,332.5 1079.2,291.4 1079.7,307.4 1079.7,333.4 1080.2,334.2 1080.2,306.5 1080.7,306.7 1080.7,335.5 1081.2,335.1 1081.2,305.2 1081.7,291.9 1081.7,337.5 1082.2,338.1 1082.2,292.2 1082.7,291.9 1082.7,339.1 1083.2,339.7 1083.2,293.9 1083.7,307.9 1083.7,338.4 1084.2,339.7 1084.2,307.9 1084.7,307.8 1084.7,339.4 1085.2,339.6 1085.2,308.2 1085.7,307.9 1085.7,339.8 1086.2,339.6 1086.2,298.1 1086.7,297.2 1086.7,339.7 1087.2,339.9 1087.2,297.0 1087.7,296.5 1087.7,338.3 1088.2,339.4 1088.2,308.5 1088.7,309.3 1088.7,339.6 1089.2,339.8 1089.2,308.3 1089.7,299.5 1089.7,339.3 1090.2,339.4 1090.2,299.1 1090.7,299.1 1090.7,339.5 1091.2,339.6 1091.2,299.6 1091.7,305.2 1091.7,339.5 1092.2,339.6 1092.2,305.1 1092.7,305.5 1092.7,339.9 1093.2,339.4 1093.2,304.4 1093.7,295.4 1093.7,339.5 1094.2,339.5 1094.2,295.8 1094.7,295.1 1094.7,339.6 1095.2,339.5 1095.2,295.8 1095.7,294.4 1095.7,339.7 1096.2,338.2 1096.2,288.5 1096.7,288.5 1096.7,339.4 1097.2,339.5 1097.2,287.7 1097.7,287.7 1097.7,338.6 1098.2,339.3 1098.2,291.9 1098.7,289.2 1098.7,339.0 1099.2,339.1 1099.2,287.8 1099.7,288.0 1099.7,339.9 1100.2,339.6 1100.2,288.8 1100.7,290.6 1100.7,339.4 1101.2,338.9 1101.2,292.2 1101.7,293.8 1101.7,338.8 1102.2,339.9 1102.2,293.9 1102.7,293.9 1102.7,339.9 1103.2,339.4 1103.2,293.9 1103.7,296.4 1103.7,339.8 1104.2,339.8 1104.2,296.6 1104.7,298.1 1104.7,338.8 1105.2,337.6 1105.2,298.3 1105.7,298.0 1105.7,339.1 1106.2,338.6 1106.2,297.8 1106.7,298.4 1106.7,339.3 1107.2,339.9 1107.2,297.6 1107.7,298.8 1107.7,339.5 1108.2,338.9 1108.2,297.9 1108.7,297.4 1108.7,339.3 1109.2,339.2 1109.2,297.6 1109.7,297.6 1109.7,339.8 1110.2,339.8 1110.2,298.8 1110.7,297.8 1110.7,339.0 1111.2,339.3 1111.2,297.3 1111.7,297.3 1111.7,339.8 1112.2,338.4 1112.2,297.1 1112.7,297.2 1112.7,339.6 1113.2,339.9 1113.2,297.2 1113.7,297.4 1113.7,339.2 1114.2,339.7 1114.2,297.7 1114.7,296.7 1114.7,339.7 1115.2,339.4 1115.2,297.1 1115.7,296.6 1115.7,339.6 1116.2,338.7 1116.2,296.3 1116.7,296.5 1116.7,339.6 1117.2,339.8 1117.2,296.8 1117.7,296.6 1117.7,339.7 1118.2,339.9 1118.2,296.7 1118.7,295.9 1118.7,339.4 1119.2,339.7 1119.2,296.0 1119.7,296.2 1119.7,339.8 1120.2,339.9 1120.2,296.1 1120.7,296.6 1120.7,339.8 1121.2,339.5 1121.2,296.7 1121.7,296.3 1121.7,339.4 1122.2,339.2 1122.2,296.0 1122.7,296.1 1122.7,338.9 1123.2,339.4 1123.2,296.8 1123.7,296.9 1123.7,339.6 1124.2,338.4 1124.2,296.7 1124.7,296.2 1124.7,339.9 1125.2,339.6 1125.2,296.4 1125.7,296.3 1125.7,339.8 1126.2,339.7 1126.2,297.3 1126.7,296.4 1126.7,339.8 1127.2,339.8 1127.2,296.8 1127.7,296.9 1127.7,339.5 1128.2,339.6 1128.2,297.1 1128.7,297.9 1128.7,339.9 1129.2,339.8 1129.2,298.5 1129.7,297.4 1129.7,339.2 1130.2,339.5 1130.2,298.0 1130.7,297.9 1130.7,339.2 1131.2,339.3 1131.2,298.2 1131.7,298.3 1131.7,339.5 1132.2,339.7 1132.2,298.9 1132.7,298.9 1132.7,339.9 1133.2,339.3 1133.2,299.3 1133.7,299.1 1133.7,339.5 1134.2,339.9 1134.2,299.8 1134.7,300.2 1134.7,338.9 1135.2,339.8 1135.2,299.5 1135.7,299.6 1135.7,339.8 1136.2,339.6 1136.2,299.8 1136.7,300.0 1136.7,339.8 1137.2,339.7 1137.2,300.3 1137.7,300.9 1137.7,339.3 1138.2,339.8 1138.2,300.3 1138.7,300.4 1138.7,339.7 1139.2,339.3 1139.2,300.6 1139.7,301.4 1139.7,337.2 1140.2,339.9 1140.2,300.8 1140.7,301.5 1140.7,339.7 1141.2,339.7 1141.2,302.2 1141.7,301.2 1141.7,339.9 1142.2,339.6 1142.2,302.9 1142.7,302.1 1142.7,339.6 1143.2,339.0 1143.2,303.0 1143.7,303.0 1143.7,339.8 1144.2,338.8 1144.2,303.3 1144.7,303.8 1144.7,339.4 1145.2,339.6 1145.2,304.3 1145.7,304.8 1145.7,339.8 1146.2,338.9 1146.2,305.4 1146.7,305.7 1146.7,339.7 1147.2,338.0 1147.2,307.4 1147.7,307.0 1147.7,339.4 1148.2,339.0 1148.2,308.2 1148.7,308.7 1148.7,339.9 1149.2,339.3 1149.2,309.2 1149.7,310.3 1149.7,339.8 1150.2,339.4 1150.2,310.9 1150.7,311.6 1150.7,339.9 1151.2,339.7 1151.2,312.1 1151.7,312.9 1151.7,339.7 1152.2,339.4 1152.2,313.2 1152.7,314.0 1152.7,339.2 1153.2,339.5 1153.2,314.6 1153.7,315.4 1153.7,339.9 1154.2,339.9 1154.2,315.4 1154.7,316.3 1154.7,339.9 1155.2,339.7 1155.2,315.7 1155.7,315.3 1155.7,339.7 1156.2,339.7 1156.2,315.7 1156.7,315.6 1156.7,339.6 1157.2,338.2 1157.2,316.1 1157.7,316.8 1157.7,339.6 1158.2,338.2 1158.2,317.4 1158.7,318.1 1158.7,339.4 1159.2,339.7 1159.2,319.4 1159.7,319.9 1159.7,339.8 1160.2,339.9 1160.2,319.9 1160.7,320.9 1160.7,338.9 1161.2,339.6 1161.2,321.0 1161.7,321.2 1161.7,339.8 1162.2,339.6 1162.2,320.1 1162.7,319.9 1162.7,338.5 1163.2,339.8 1163.2,320.4 1163.7,319.3 1163.7,339.7 1164.2,339.6 1164.2,318.5 1164.7,319.2 1164.7,339.8 1165.2,339.3 1165.2,317.9 1165.7,317.0 1165.7,338.6 1166.2,339.8 1166.2,316.6 1166.7,316.6 1166.7,339.9 1167.2,339.9 1167.2,315.7 1167.7,315.3 1167.7,339.9 1168.2,339.8 1168.2,314.6 1168.7,314.7 1168.7,339.9 1169.2,339.6 1169.2,315.3 1169.7,315.7 1169.7,339.1 1170.2,339.8 1170.2,316.4 1170.7,316.8 1170.7,339.0 1171.2,339.3 1171.2,317.2 1171.7,317.7 1171.7,338.5 1172.2,339.5 1172.2,318.4 1172.7,319.7 1172.7,339.9 1173.2,339.3 1173.2,319.3 1173.7,320.3 1173.7,339.3 1174.2,339.6 1174.2,320.6 1174.7,321.2 1174.7,339.6 1175.2,339.5 1175.2,321.8 1175.7,322.4 1175.7,339.8 1176.2,339.9 1176.2,323.3 1176.7,323.7 1176.7,339.6 1177.2,339.9 1177.2,323.0 1177.7,323.1 1177.7,339.6 1178.2,339.7 1178.2,323.3 1178.7,322.8 1178.7,338.8 1179.2,338.0 1179.2,322.6 1179.7,323.4 1179.7,337.6 1180.2,339.8 1180.2,324.7 1180.7,325.0 1180.7,339.5 1181.2,336.9 1181.2,325.1 1181.7,326.5 1181.7,339.1 1182.2,339.9 1182.2,327.2 1182.7,328.7 1182.7,339.8 1183.2,339.5 1183.2,328.7 1183.7,329.3 1183.7,339.6 1184.2,339.9 1184.2,330.4 1184.7,331.0 1184.7,339.9 1185.2,339.4 1185.2,331.4 1185.7,332.2 1185.7,339.9 1186.2,338.3 1186.2,332.6 1186.7,333.6 1186.7,339.7 1187.2,339.3 1187.2,334.4 1187.7,335.7 1187.7,339.4"/>
<polyline class="tr" stroke="#800080" stroke-width="2.6" points="1187.7,327.5 1188.3,328.6 1188.9,326.3 1189.5,326.1 1190.1,328.0 1190.7,323.6 1191.3,325.5 1191.9,323.6 1192.5,327.1 1193.1,331.7 1193.7,333.4 1194.3,337.2 1194.9,337.0 1195.5,334.2 1196.1,336.1 1196.7,331.4 1197.3,331.4 1197.9,331.9 1198.5,327.5 1199.1,327.3 1199.7,324.7 1200.3,326.2 1200.9,324.8 1201.5,320.6 1202.1,322.3 1202.7,323.1 1203.3,325.5 1203.9,326.8 1204.5,326.9 1205.1,328.6 1205.7,329.2 1206.3,330.2 1206.9,330.9 1207.5,331.5 1208.1,331.7 1208.7,328.1 1209.3,327.1 1209.9,323.5 1210.5,321.9 1211.1,321.4 1211.7,324.2 1212.3,325.9 1212.9,328.5 1213.5,331.5 1214.1,334.8 1214.7,333.2 1215.3,334.4 1215.9,329.2 1216.5,326.9 1217.1,325.2 1217.7,322.5 1218.3,321.2 1218.9,320.0 1219.5,318.1 1220.1,317.8 1220.7,317.8 1221.3,317.5 1221.9,322.8 1222.5,319.4 1223.1,325.9 1223.7,325.8 1224.3,326.8 1224.9,324.4 1225.5,320.6 1226.1,316.9 1226.7,312.0 1227.3,309.9 1227.9,305.5 1228.5,303.4 1229.1,299.0 1229.7,295.2 1230.3,306.0 1230.9,315.8 1231.5,317.1 1232.1,313.8 1232.7,310.2 1233.3,309.3 1233.9,305.2 1234.5,302.9 1235.1,301.7 1235.7,301.9 1236.3,298.2 1236.9,299.8 1237.5,305.0 1238.1,304.2 1238.7,306.7 1239.3,307.3 1239.9,311.4 1240.5,312.3 1241.1,307.9 1241.7,305.0 1242.3,301.9 1242.9,302.0 1243.5,301.9 1244.1,303.6 1244.7,308.1 1245.3,309.7 1245.9,312.7 1246.5,312.0 1247.1,309.7 1247.7,308.7 1248.3,307.9 1248.9,304.3 1249.5,301.1 1250.1,299.9 1250.7,299.9 1251.3,299.3 1251.9,304.6 1252.5,305.2 1253.1,305.6 1253.7,307.7 1254.3,302.5 1254.9,302.1 1255.5,300.0 1256.1,294.3 1256.7,292.9 1257.3,292.1 1257.9,292.1 1258.5,290.7 1259.1,291.7 1259.7,292.4 1260.3,289.5 1260.9,289.4 1261.5,285.2 1262.1,284.5 1262.7,283.2 1263.3,281.7 1263.9,283.5 1264.5,284.7 1265.1,290.6 1265.7,292.3 1266.3,296.9 1266.9,293.6 1267.5,293.3 1268.1,295.0 1268.7,294.8 1269.3,294.6 1269.9,295.8 1270.5,298.6 1271.1,299.6 1271.7,301.7 1272.3,299.6 1272.9,300.4 1273.5,295.3 1274.1,291.8 1274.7,289.6 1275.3,284.0 1275.9,277.8 1276.5,277.6 1277.1,279.2 1277.7,278.9 1278.3,278.2 1278.9,274.5 1279.5,273.8 1280.1,270.0 1280.7,268.2 1281.3,265.1 1281.9,262.7 1282.5,267.2 1283.1,270.4 1283.7,271.9 1284.3,268.6 1284.9,268.1 1285.5,262.4 1286.1,261.0 1286.7,255.7 1287.3,253.4 1287.9,255.1 1288.5,259.6 1289.1,258.7 1289.7,262.3 1290.3,262.4 1290.9,263.1 1291.5,264.8 1292.1,265.9 1292.7,271.2 1293.3,273.1 1293.9,277.6 1294.5,280.1 1295.1,285.5 1295.7,287.7 1296.3,290.8 1296.9,290.5 1297.5,295.9 1298.1,302.7 1298.7,305.9 1299.3,304.8 1299.9,302.5 1300.5,301.2 1301.1,296.2 1301.7,293.3 1302.3,293.5 1302.9,290.0 1303.5,289.5 1304.1,288.0 1304.7,284.9 1305.3,280.4 1305.9,279.8 1306.5,277.1 1307.1,277.2 1307.7,279.2 1308.3,279.2 1308.9,276.7 1309.5,272.8 1310.1,270.2 1310.7,268.5 1311.3,266.8 1311.9,267.9 1312.5,270.3 1313.1,272.4 1313.7,272.7 1314.3,277.2"/>
<line x1="1314.4" y1="268" x2="1314.4" y2="339.9" stroke="#800080" stroke-width="1.8"/>
<polyline class="tr" stroke="#800080" stroke-width="1.1" points="1315.0,339.9 1315.0,339.9 1316.0,339.9 1316.0,339.9 1317.0,339.9 1317.0,339.9 1318.0,339.9 1318.0,339.9 1319.0,339.9 1319.0,339.9 1320.0,339.9 1320.0,339.9 1321.0,339.9 1321.0,339.9 1322.0,339.9 1322.0,339.9 1323.0,338.3 1323.0,339.6 1324.0,339.9 1324.0,339.9 1325.0,339.9 1325.0,339.9 1326.0,339.9 1326.0,339.9 1327.0,336.1 1327.0,339.0 1328.0,339.3 1328.0,336.2 1329.0,339.2 1329.0,339.2 1330.0,339.1 1330.0,336.9 1331.0,336.5 1331.0,339.4 1332.0,339.9 1332.0,339.9 1333.0,335.3 1333.0,339.6 1334.0,339.9 1334.0,339.9 1335.0,337.6 1335.0,339.4 1336.0,339.9 1336.0,339.9 1337.0,332.8 1337.0,339.8 1338.0,339.2 1338.0,334.1 1339.0,332.5 1339.0,339.8 1340.0,339.9 1340.0,331.5 1341.0,330.7 1341.0,339.4 1342.0,339.5 1342.0,332.7 1343.0,331.0 1343.0,339.7 1344.0,339.9 1344.0,332.7 1345.0,332.2 1345.0,339.2 1346.0,339.9 1346.0,331.4 1347.0,327.6 1347.0,339.8 1348.0,339.8 1348.0,326.5 1349.0,331.7 1349.0,339.5 1350.0,338.7 1350.0,325.4 1351.0,324.8 1351.0,339.6 1352.0,339.9 1352.0,322.3 1353.0,326.7 1353.0,339.3"/>
<polygon fill="#800080" points="1353.5,319.8 1354.5,323.3 1355.5,316.2 1356.5,317.4 1357.5,315.1 1358.5,316.7 1359.5,316.5 1360.5,315.7 1361.5,314.5 1362.5,315.8 1363.5,315.0 1364.5,314.8 1365.5,314.5 1366.5,315.0 1367.5,319.1 1368.5,315.5 1369.5,312.3 1370.5,310.5 1371.5,311.2 1372.5,311.2 1373.5,313.0 1374.5,316.5 1375.5,311.5 1376.5,310.6 1377.5,311.7 1378.5,307.4 1379.5,306.9 1380.5,308.0 1381.5,312.0 1382.5,307.8 1383.5,307.8 1384.5,309.0 1385.5,308.9 1386.5,309.1 1387.5,309.2 1388.5,309.4 1389.5,308.3 1390.5,308.5 1391.5,309.6 1392.5,307.6 1393.5,305.5 1394.5,304.6 1395.5,306.8 1396.5,307.1 1397.5,309.3 1398.5,306.5 1399.5,307.0 1400.5,305.0 1401.5,304.3 1402.5,304.6 1403.5,303.7 1404.5,302.9 1405.5,304.3 1406.5,303.4 1407.5,303.5 1408.5,302.4 1409.5,301.6 1410.5,304.5 1411.5,300.5 1412.5,299.2 1413.5,298.9 1414.5,298.4 1415.5,300.6 1416.5,299.4 1417.5,297.9 1418.5,297.8 1419.5,297.5 1420.5,297.7 1421.5,301.4 1422.5,301.1 1423.5,298.0 1424.5,296.0 1425.5,296.2 1426.5,294.1 1427.5,294.1 1428.5,293.3 1429.5,293.7 1430.5,292.3 1431.5,291.5 1432.5,292.5 1433.5,291.1 1434.5,291.4 1435.5,290.9 1436.5,291.2 1437.5,289.4 1438.5,288.4 1439.5,289.1 1440.5,287.1 1441.5,286.4 1442.5,285.8 1443.5,285.3 1444.5,284.7 1445.5,287.1 1446.5,284.8 1447.5,283.5 1448.5,285.4 1449.5,281.2 1450.5,281.1 1451.5,280.7 1452.5,279.4 1453.5,279.4 1454.5,281.2 1455.5,278.2 1456.5,278.0 1457.5,277.2 1458.5,277.6 1459.5,276.6 1460.5,277.6 1461.5,275.9 1462.5,276.9 1463.5,275.5 1464.5,274.6 1465.5,275.2 1466.5,276.8 1467.5,273.5 1468.5,273.5 1469.5,270.5 1470.5,268.8 1471.5,271.9 1472.5,271.3 1473.5,270.1 1474.5,269.2 1475.5,268.9 1476.5,269.4 1477.5,270.6 1477.5,290.9 1476.5,292.6 1475.5,293.9 1474.5,294.9 1473.5,295.0 1472.5,292.1 1471.5,296.1 1470.5,296.3 1469.5,297.4 1468.5,297.9 1467.5,298.4 1466.5,298.2 1465.5,301.7 1464.5,299.5 1463.5,301.8 1462.5,301.5 1461.5,299.6 1460.5,301.3 1459.5,302.2 1458.5,302.7 1457.5,303.3 1456.5,303.7 1455.5,303.9 1454.5,303.6 1453.5,304.0 1452.5,301.8 1451.5,301.3 1450.5,303.9 1449.5,304.7 1448.5,302.4 1447.5,306.8 1446.5,306.6 1445.5,307.9 1444.5,306.0 1443.5,307.9 1442.5,308.9 1441.5,307.6 1440.5,308.3 1439.5,309.4 1438.5,310.6 1437.5,311.2 1436.5,312.1 1435.5,311.4 1434.5,312.0 1433.5,310.5 1432.5,310.6 1431.5,310.2 1430.5,311.4 1429.5,311.3 1428.5,311.8 1427.5,310.4 1426.5,310.5 1425.5,312.2 1424.5,312.4 1423.5,313.3 1422.5,313.7 1421.5,313.5 1420.5,312.5 1419.5,313.1 1418.5,313.7 1417.5,314.1 1416.5,315.5 1415.5,314.5 1414.5,316.0 1413.5,315.0 1412.5,317.3 1411.5,317.0 1410.5,317.5 1409.5,319.8 1408.5,320.6 1407.5,321.3 1406.5,322.9 1405.5,323.0 1404.5,323.9 1403.5,324.2 1402.5,324.5 1401.5,323.7 1400.5,324.8 1399.5,325.7 1398.5,325.4 1397.5,326.3 1396.5,324.1 1395.5,326.3 1394.5,328.3 1393.5,328.1 1392.5,329.0 1391.5,330.0 1390.5,329.0 1389.5,331.2 1388.5,331.7 1387.5,327.9 1386.5,330.7 1385.5,329.8 1384.5,327.8 1383.5,324.3 1382.5,326.4 1381.5,325.7 1380.5,325.0 1379.5,324.9 1378.5,326.4 1377.5,326.2 1376.5,325.6 1375.5,328.4 1374.5,329.6 1373.5,330.6 1372.5,329.7 1371.5,331.1 1370.5,329.6 1369.5,328.6 1368.5,328.2 1367.5,329.5 1366.5,327.9 1365.5,326.3 1364.5,326.3 1363.5,326.6 1362.5,327.4 1361.5,332.2 1360.5,334.7 1359.5,333.3 1358.5,329.5 1357.5,331.0 1356.5,331.2 1355.5,329.2 1354.5,336.0 1353.5,339.3"/>
<polyline class="tr" stroke="#800080" stroke-width="1.4" points="1353.5,319.8 1353.5,339.3 1354.5,336.0 1354.5,323.3 1355.5,316.2 1355.5,329.2 1356.5,331.2 1356.5,317.4 1357.5,315.1 1357.5,331.0 1358.5,329.5 1358.5,316.7 1359.5,316.5 1359.5,333.3 1360.5,334.7 1360.5,315.7 1361.5,314.5 1361.5,332.2 1362.5,327.4 1362.5,315.8 1363.5,315.0 1363.5,326.6 1364.5,326.3 1364.5,314.8 1365.5,314.5 1365.5,326.3 1366.5,327.9 1366.5,315.0 1367.5,319.1 1367.5,329.5 1368.5,328.2 1368.5,315.5 1369.5,312.3 1369.5,328.6 1370.5,329.6 1370.5,310.5 1371.5,311.2 1371.5,331.1 1372.5,329.7 1372.5,311.2 1373.5,313.0 1373.5,330.6 1374.5,329.6 1374.5,316.5 1375.5,311.5 1375.5,328.4 1376.5,325.6 1376.5,310.6 1377.5,311.7 1377.5,326.2 1378.5,326.4 1378.5,307.4 1379.5,306.9 1379.5,324.9 1380.5,325.0 1380.5,308.0 1381.5,312.0 1381.5,325.7 1382.5,326.4 1382.5,307.8 1383.5,307.8 1383.5,324.3 1384.5,327.8 1384.5,309.0 1385.5,308.9 1385.5,329.8 1386.5,330.7 1386.5,309.1 1387.5,309.2 1387.5,327.9 1388.5,331.7 1388.5,309.4 1389.5,308.3 1389.5,331.2 1390.5,329.0 1390.5,308.5 1391.5,309.6 1391.5,330.0 1392.5,329.0 1392.5,307.6 1393.5,305.5 1393.5,328.1 1394.5,328.3 1394.5,304.6 1395.5,306.8 1395.5,326.3 1396.5,324.1 1396.5,307.1 1397.5,309.3 1397.5,326.3 1398.5,325.4 1398.5,306.5 1399.5,307.0 1399.5,325.7 1400.5,324.8 1400.5,305.0 1401.5,304.3 1401.5,323.7 1402.5,324.5 1402.5,304.6 1403.5,303.7 1403.5,324.2 1404.5,323.9 1404.5,302.9 1405.5,304.3 1405.5,323.0 1406.5,322.9 1406.5,303.4 1407.5,303.5 1407.5,321.3 1408.5,320.6 1408.5,302.4 1409.5,301.6 1409.5,319.8 1410.5,317.5 1410.5,304.5 1411.5,300.5 1411.5,317.0 1412.5,317.3 1412.5,299.2 1413.5,298.9 1413.5,315.0 1414.5,316.0 1414.5,298.4 1415.5,300.6 1415.5,314.5 1416.5,315.5 1416.5,299.4 1417.5,297.9 1417.5,314.1 1418.5,313.7 1418.5,297.8 1419.5,297.5 1419.5,313.1 1420.5,312.5 1420.5,297.7 1421.5,301.4 1421.5,313.5 1422.5,313.7 1422.5,301.1 1423.5,298.0 1423.5,313.3 1424.5,312.4 1424.5,296.0 1425.5,296.2 1425.5,312.2 1426.5,310.5 1426.5,294.1 1427.5,294.1 1427.5,310.4 1428.5,311.8 1428.5,293.3 1429.5,293.7 1429.5,311.3 1430.5,311.4 1430.5,292.3 1431.5,291.5 1431.5,310.2 1432.5,310.6 1432.5,292.5 1433.5,291.1 1433.5,310.5 1434.5,312.0 1434.5,291.4 1435.5,290.9 1435.5,311.4 1436.5,312.1 1436.5,291.2 1437.5,289.4 1437.5,311.2 1438.5,310.6 1438.5,288.4 1439.5,289.1 1439.5,309.4 1440.5,308.3 1440.5,287.1 1441.5,286.4 1441.5,307.6 1442.5,308.9 1442.5,285.8 1443.5,285.3 1443.5,307.9 1444.5,306.0 1444.5,284.7 1445.5,287.1 1445.5,307.9 1446.5,306.6 1446.5,284.8 1447.5,283.5 1447.5,306.8 1448.5,302.4 1448.5,285.4 1449.5,281.2 1449.5,304.7 1450.5,303.9 1450.5,281.1 1451.5,280.7 1451.5,301.3 1452.5,301.8 1452.5,279.4 1453.5,279.4 1453.5,304.0 1454.5,303.6 1454.5,281.2 1455.5,278.2 1455.5,303.9 1456.5,303.7 1456.5,278.0 1457.5,277.2 1457.5,303.3 1458.5,302.7 1458.5,277.6 1459.5,276.6 1459.5,302.2 1460.5,301.3 1460.5,277.6 1461.5,275.9 1461.5,299.6 1462.5,301.5 1462.5,276.9 1463.5,275.5 1463.5,301.8 1464.5,299.5 1464.5,274.6 1465.5,275.2 1465.5,301.7 1466.5,298.2 1466.5,276.8 1467.5,273.5 1467.5,298.4 1468.5,297.9 1468.5,273.5 1469.5,270.5 1469.5,297.4 1470.5,296.3 1470.5,268.8 1471.5,271.9 1471.5,296.1 1472.5,292.1 1472.5,271.3 1473.5,270.1 1473.5,295.0 1474.5,294.9 1474.5,269.2 1475.5,268.9 1475.5,293.9 1476.5,292.6 1476.5,269.4 1477.5,270.6 1477.5,290.9"/>
<line x1="1470.3" y1="263" x2="1470.3" y2="285" stroke="#800080" stroke-width="1.7"/>
<line x1="984.02" y1="209.48" x2="993.65" y2="209.48" stroke="#7a0000" class="lim"/>
<line x1="1003.38" y1="209.48" x2="1045.22" y2="209.48" stroke="#7a0000" class="lim"/>
<line x1="1045.62" y1="222.55" x2="1176.21" y2="222.55" stroke="#7a0000" class="lim"/>
<line x1="1213.62" y1="242.16" x2="1238.35" y2="242.16" stroke="#7a0000" class="lim"/>
<line x1="1238.75" y1="235.62" x2="1286.99" y2="235.62" stroke="#7a0000" class="lim"/>
<line x1="1314.78" y1="222.55" x2="1327.27" y2="222.55" stroke="#7a0000" class="lim"/>
<line x1="1346.74" y1="222.55" x2="1386.67" y2="222.55" stroke="#7a0000" class="lim"/>
<line x1="1387.07" y1="137.58" x2="1469.41" y2="137.58" stroke="#7a0000" class="lim"/>
<line x1="1469.81" y1="183.34" x2="1471.68" y2="183.34" stroke="#7a0000" class="lim"/>
<line x1="984.02" y1="78.76" x2="993.65" y2="78.76" stroke="#ff0000" class="lim"/>
<line x1="1003.38" y1="78.76" x2="1045.22" y2="78.76" stroke="#ff0000" class="lim"/>
<line x1="1045.62" y1="157.19" x2="1148.51" y2="157.19" stroke="#ff0000" class="lim"/>
<line x1="1148.91" y1="91.83" x2="1176.21" y2="91.83" stroke="#ff0000" class="lim"/>
<line x1="1213.62" y1="111.44" x2="1238.35" y2="111.44" stroke="#ff0000" class="lim"/>
<line x1="1238.75" y1="170.26" x2="1286.99" y2="170.26" stroke="#ff0000" class="lim"/>
<line x1="1314.78" y1="131.05" x2="1327.27" y2="131.05" stroke="#ff0000" class="lim"/>
<line x1="1346.74" y1="91.83" x2="1359.88" y2="91.83" stroke="#ff0000" class="lim"/>
<line x1="1360.28" y1="131.05" x2="1369.21" y2="131.05" stroke="#ff0000" class="lim"/>
<line x1="1369.61" y1="91.83" x2="1386.67" y2="91.83" stroke="#ff0000" class="lim"/>
<line x1="1387.07" y1="72.22" x2="1469.41" y2="72.22" stroke="#ff0000" class="lim"/>
<line x1="1469.81" y1="52.62" x2="1471.68" y2="52.62" stroke="#ff0000" class="lim"/>
<text x="837.3" y="347.5" text-anchor="end" class="t">0</text>
<text x="837.3" y="282.1" text-anchor="end" class="t">10</text>
<text x="837.3" y="216.8" text-anchor="end" class="t">20</text>
<text x="837.3" y="151.4" text-anchor="end" class="t">30</text>
<text x="837.3" y="86.1" text-anchor="end" class="t">40</text>
<text x="837.3" y="20.7" text-anchor="end" class="t">50</text>
<text x="854.1" y="370.0" text-anchor="middle" class="t">10</text>
<text x="1165.5" y="370.0" text-anchor="middle" class="t">100</text>
<text x="1476.9" y="370.0" text-anchor="middle" class="t">1000</text>
<text x="870.9" y="42.6" class="hv" style="font-size:31px" fill="#3333ff">V</text>
<text transform="translate(799.0,253.4) rotate(-90)" class="t" id="yl2" textLength="188.4" lengthAdjust="spacing">Noise Level[dBuV/m]</text>
<text x="1081.9" y="408.5" class="t" id="xl2" textLength="146.8" lengthAdjust="spacing">Frequency[MHz]</text>
</g>
</svg></body></html>
